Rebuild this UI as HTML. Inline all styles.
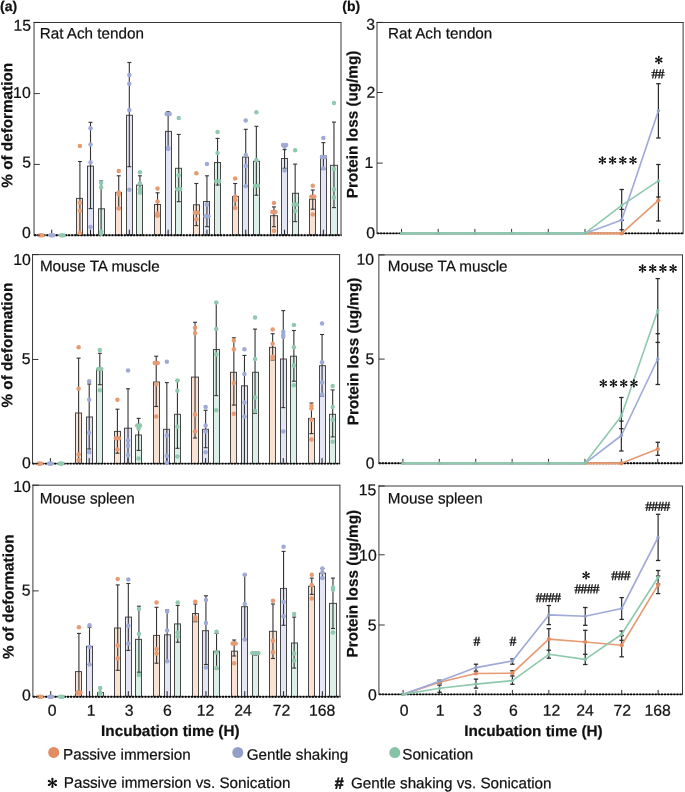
<!DOCTYPE html>
<html><head><meta charset="utf-8"><style>
html,body{margin:0;padding:0;background:#fff;}
body{width:685px;height:792px;overflow:hidden;}
svg{display:block;}
svg{will-change:transform;}
text{font-family:"Liberation Sans",sans-serif;fill:#111;stroke:#111;stroke-width:0.22px;}
.tk{font-size:15.8px;}
.tt{font-size:15.25px;}
.yl{font-size:15.27px;font-weight:bold;}
.xl{font-size:15.3px;font-weight:bold;}
.pl{font-size:14px;font-weight:bold;}
.lg{font-size:15.22px;}
.hb{font-size:16px;font-weight:bold;stroke:#111;stroke-width:0.55px;}
.hs{font-family:"Liberation Serif",serif;font-size:13.5px;font-weight:bold;letter-spacing:-0.6px;stroke:#111;stroke-width:0.25px;}

</style></head><body>
<svg width="685" height="792" viewBox="0 0 685 792">
<rect width="685" height="792" fill="#fff"/>
<line x1="34.05" y1="22" x2="34.05" y2="235.7" stroke="#383838" stroke-width="1"/>
<line x1="33.55" y1="22.5" x2="341.5" y2="22.5" stroke="#383838" stroke-width="1"/>
<line x1="341" y1="22.5" x2="341" y2="235.2" stroke="#383838" stroke-width="1"/>
<rect x="76.5" y="198.4" width="6" height="36.8" fill="#F9E1D3" stroke="#474747" stroke-width="1"/>
<rect x="87.5" y="166.1" width="6" height="69.1" fill="#E4E6F5" stroke="#474747" stroke-width="1"/>
<rect x="98.5" y="208.8" width="6" height="26.4" fill="#DCF0E8" stroke="#474747" stroke-width="1"/>
<rect x="115.5" y="192.4" width="6" height="42.8" fill="#F9E1D3" stroke="#474747" stroke-width="1"/>
<rect x="126.5" y="115.3" width="6" height="119.9" fill="#E4E6F5" stroke="#474747" stroke-width="1"/>
<rect x="136.5" y="185.1" width="6" height="50.1" fill="#DCF0E8" stroke="#474747" stroke-width="1"/>
<rect x="154.5" y="204.5" width="6" height="30.7" fill="#F9E1D3" stroke="#474747" stroke-width="1"/>
<rect x="165.5" y="131.4" width="6" height="103.8" fill="#E4E6F5" stroke="#474747" stroke-width="1"/>
<rect x="175.5" y="168.3" width="6" height="66.9" fill="#DCF0E8" stroke="#474747" stroke-width="1"/>
<rect x="193.5" y="204.8" width="6" height="30.4" fill="#F9E1D3" stroke="#474747" stroke-width="1"/>
<rect x="203.5" y="201.5" width="6" height="33.7" fill="#E4E6F5" stroke="#474747" stroke-width="1"/>
<rect x="214.5" y="162.5" width="6" height="72.7" fill="#DCF0E8" stroke="#474747" stroke-width="1"/>
<rect x="232.5" y="196.4" width="6" height="38.8" fill="#F9E1D3" stroke="#474747" stroke-width="1"/>
<rect x="242.5" y="157.1" width="6" height="78.1" fill="#E4E6F5" stroke="#474747" stroke-width="1"/>
<rect x="253.5" y="161.3" width="6" height="73.9" fill="#DCF0E8" stroke="#474747" stroke-width="1"/>
<rect x="270.5" y="215.7" width="7" height="19.5" fill="#F9E1D3" stroke="#474747" stroke-width="1"/>
<rect x="281.5" y="158.5" width="6" height="76.7" fill="#E4E6F5" stroke="#474747" stroke-width="1"/>
<rect x="292.5" y="193.3" width="6" height="41.9" fill="#DCF0E8" stroke="#474747" stroke-width="1"/>
<rect x="309.5" y="199.2" width="6" height="36" fill="#F9E1D3" stroke="#474747" stroke-width="1"/>
<rect x="320.5" y="155.9" width="6" height="79.3" fill="#E4E6F5" stroke="#474747" stroke-width="1"/>
<rect x="330.5" y="165.3" width="7" height="69.9" fill="#DCF0E8" stroke="#474747" stroke-width="1"/>
<line x1="34.05" y1="235.2" x2="341.5" y2="235.2" stroke="#444" stroke-width="1"/>
<line x1="34.05" y1="235.2" x2="341.5" y2="235.2" stroke="#000" stroke-width="1.9" stroke-dasharray="1.9 1.2"/>
<line x1="51.7" y1="235.2" x2="51.7" y2="229.7" stroke="#222" stroke-width="1"/>
<line x1="90.51" y1="235.2" x2="90.51" y2="229.7" stroke="#222" stroke-width="1"/>
<line x1="79.91" y1="161.5" x2="79.91" y2="235" stroke="#333" stroke-width="1.1"/>
<line x1="77.91" y1="161.5" x2="81.91" y2="161.5" stroke="#333" stroke-width="1.1"/>
<line x1="90.51" y1="122.3" x2="90.51" y2="208.6" stroke="#333" stroke-width="1.1"/>
<line x1="88.51" y1="122.3" x2="92.51" y2="122.3" stroke="#333" stroke-width="1.1"/>
<line x1="88.51" y1="208.6" x2="92.51" y2="208.6" stroke="#333" stroke-width="1.1"/>
<line x1="101.11" y1="181" x2="101.11" y2="235" stroke="#333" stroke-width="1.1"/>
<line x1="99.11" y1="181" x2="103.11" y2="181" stroke="#333" stroke-width="1.1"/>
<circle cx="79.91" cy="146" r="2.25" fill="#E69B73"/>
<circle cx="79.91" cy="202.7" r="2.25" fill="#E69B73"/>
<circle cx="79.91" cy="210.7" r="2.25" fill="#E69B73"/>
<circle cx="79.91" cy="233.1" r="2.25" fill="#E69B73"/>
<circle cx="90.51" cy="128.3" r="2.25" fill="#9FAAD6"/>
<circle cx="90.51" cy="144.4" r="2.25" fill="#9FAAD6"/>
<circle cx="90.51" cy="162.5" r="2.25" fill="#9FAAD6"/>
<circle cx="90.51" cy="227" r="2.25" fill="#9FAAD6"/>
<circle cx="101.11" cy="182.7" r="2.25" fill="#90C9AE"/>
<circle cx="101.11" cy="187.2" r="2.25" fill="#90C9AE"/>
<circle cx="101.11" cy="231.7" r="2.25" fill="#90C9AE"/>
<circle cx="101.11" cy="233.8" r="2.25" fill="#90C9AE"/>
<line x1="129.32" y1="235.2" x2="129.32" y2="229.7" stroke="#222" stroke-width="1"/>
<line x1="118.72" y1="175.8" x2="118.72" y2="208" stroke="#333" stroke-width="1.1"/>
<line x1="116.72" y1="175.8" x2="120.72" y2="175.8" stroke="#333" stroke-width="1.1"/>
<line x1="116.72" y1="208" x2="120.72" y2="208" stroke="#333" stroke-width="1.1"/>
<line x1="129.32" y1="62.5" x2="129.32" y2="166.7" stroke="#333" stroke-width="1.1"/>
<line x1="127.32" y1="62.5" x2="131.32" y2="62.5" stroke="#333" stroke-width="1.1"/>
<line x1="127.32" y1="166.7" x2="131.32" y2="166.7" stroke="#333" stroke-width="1.1"/>
<line x1="139.92" y1="175.8" x2="139.92" y2="192.8" stroke="#333" stroke-width="1.1"/>
<line x1="137.92" y1="175.8" x2="141.92" y2="175.8" stroke="#333" stroke-width="1.1"/>
<line x1="137.92" y1="192.8" x2="141.92" y2="192.8" stroke="#333" stroke-width="1.1"/>
<circle cx="118.72" cy="171.1" r="2.25" fill="#E69B73"/>
<circle cx="118.72" cy="192.4" r="2.25" fill="#E69B73"/>
<circle cx="118.72" cy="194.5" r="2.25" fill="#E69B73"/>
<circle cx="118.72" cy="208.5" r="2.25" fill="#E69B73"/>
<circle cx="129.32" cy="75.1" r="2.25" fill="#9FAAD6"/>
<circle cx="129.32" cy="83.7" r="2.25" fill="#9FAAD6"/>
<circle cx="129.32" cy="110.1" r="2.25" fill="#9FAAD6"/>
<circle cx="129.32" cy="189.8" r="2.25" fill="#9FAAD6"/>
<circle cx="139.92" cy="172.3" r="2.25" fill="#90C9AE"/>
<circle cx="139.92" cy="183.5" r="2.25" fill="#90C9AE"/>
<circle cx="139.92" cy="189.3" r="2.25" fill="#90C9AE"/>
<circle cx="139.92" cy="192.8" r="2.25" fill="#90C9AE"/>
<line x1="168.13" y1="235.2" x2="168.13" y2="229.7" stroke="#222" stroke-width="1"/>
<line x1="157.53" y1="192.8" x2="157.53" y2="216" stroke="#333" stroke-width="1.1"/>
<line x1="155.53" y1="192.8" x2="159.53" y2="192.8" stroke="#333" stroke-width="1.1"/>
<line x1="155.53" y1="216" x2="159.53" y2="216" stroke="#333" stroke-width="1.1"/>
<line x1="168.13" y1="111.8" x2="168.13" y2="148.5" stroke="#333" stroke-width="1.1"/>
<line x1="166.13" y1="111.8" x2="170.13" y2="111.8" stroke="#333" stroke-width="1.1"/>
<line x1="166.13" y1="148.5" x2="170.13" y2="148.5" stroke="#333" stroke-width="1.1"/>
<line x1="178.73" y1="134.4" x2="178.73" y2="201.7" stroke="#333" stroke-width="1.1"/>
<line x1="176.73" y1="134.4" x2="180.73" y2="134.4" stroke="#333" stroke-width="1.1"/>
<line x1="176.73" y1="201.7" x2="180.73" y2="201.7" stroke="#333" stroke-width="1.1"/>
<circle cx="157.53" cy="188.6" r="2.25" fill="#E69B73"/>
<circle cx="157.53" cy="201.5" r="2.25" fill="#E69B73"/>
<circle cx="157.53" cy="213.4" r="2.25" fill="#E69B73"/>
<circle cx="157.53" cy="215.7" r="2.25" fill="#E69B73"/>
<circle cx="166.63" cy="113.9" r="2.25" fill="#9FAAD6"/>
<circle cx="169.63" cy="113.9" r="2.25" fill="#9FAAD6"/>
<circle cx="168.13" cy="147.8" r="2.25" fill="#9FAAD6"/>
<circle cx="168.13" cy="149" r="2.25" fill="#9FAAD6"/>
<circle cx="178.73" cy="118.1" r="2.25" fill="#90C9AE"/>
<circle cx="178.73" cy="175.3" r="2.25" fill="#90C9AE"/>
<circle cx="177.23" cy="189.3" r="2.25" fill="#90C9AE"/>
<circle cx="180.23" cy="189.3" r="2.25" fill="#90C9AE"/>
<line x1="206.94" y1="235.2" x2="206.94" y2="229.7" stroke="#222" stroke-width="1"/>
<line x1="196.34" y1="183.5" x2="196.34" y2="225.6" stroke="#333" stroke-width="1.1"/>
<line x1="194.34" y1="183.5" x2="198.34" y2="183.5" stroke="#333" stroke-width="1.1"/>
<line x1="194.34" y1="225.6" x2="198.34" y2="225.6" stroke="#333" stroke-width="1.1"/>
<line x1="206.94" y1="175.8" x2="206.94" y2="226.7" stroke="#333" stroke-width="1.1"/>
<line x1="204.94" y1="175.8" x2="208.94" y2="175.8" stroke="#333" stroke-width="1.1"/>
<line x1="204.94" y1="226.7" x2="208.94" y2="226.7" stroke="#333" stroke-width="1.1"/>
<line x1="217.54" y1="138.4" x2="217.54" y2="185.1" stroke="#333" stroke-width="1.1"/>
<line x1="215.54" y1="138.4" x2="219.54" y2="138.4" stroke="#333" stroke-width="1.1"/>
<line x1="215.54" y1="185.1" x2="219.54" y2="185.1" stroke="#333" stroke-width="1.1"/>
<circle cx="196.34" cy="173.2" r="2.25" fill="#E69B73"/>
<circle cx="194.84" cy="212.7" r="2.25" fill="#E69B73"/>
<circle cx="197.84" cy="212.7" r="2.25" fill="#E69B73"/>
<circle cx="196.34" cy="219.3" r="2.25" fill="#E69B73"/>
<circle cx="206.94" cy="164.1" r="2.25" fill="#9FAAD6"/>
<circle cx="206.94" cy="204.5" r="2.25" fill="#9FAAD6"/>
<circle cx="205.44" cy="216.2" r="2.25" fill="#9FAAD6"/>
<circle cx="208.44" cy="216.2" r="2.25" fill="#9FAAD6"/>
<circle cx="217.54" cy="132.1" r="2.25" fill="#90C9AE"/>
<circle cx="217.54" cy="153.1" r="2.25" fill="#90C9AE"/>
<circle cx="216.04" cy="181.2" r="2.25" fill="#90C9AE"/>
<circle cx="219.04" cy="181.2" r="2.25" fill="#90C9AE"/>
<line x1="245.75" y1="235.2" x2="245.75" y2="229.7" stroke="#222" stroke-width="1"/>
<line x1="235.15" y1="183.5" x2="235.15" y2="208" stroke="#333" stroke-width="1.1"/>
<line x1="233.15" y1="183.5" x2="237.15" y2="183.5" stroke="#333" stroke-width="1.1"/>
<line x1="233.15" y1="208" x2="237.15" y2="208" stroke="#333" stroke-width="1.1"/>
<line x1="245.75" y1="129.3" x2="245.75" y2="185.8" stroke="#333" stroke-width="1.1"/>
<line x1="243.75" y1="129.3" x2="247.75" y2="129.3" stroke="#333" stroke-width="1.1"/>
<line x1="243.75" y1="185.8" x2="247.75" y2="185.8" stroke="#333" stroke-width="1.1"/>
<line x1="256.35" y1="126.3" x2="256.35" y2="195.2" stroke="#333" stroke-width="1.1"/>
<line x1="254.35" y1="126.3" x2="258.35" y2="126.3" stroke="#333" stroke-width="1.1"/>
<line x1="254.35" y1="195.2" x2="258.35" y2="195.2" stroke="#333" stroke-width="1.1"/>
<circle cx="235.15" cy="178.4" r="2.25" fill="#E69B73"/>
<circle cx="235.15" cy="196.4" r="2.25" fill="#E69B73"/>
<circle cx="235.15" cy="200.3" r="2.25" fill="#E69B73"/>
<circle cx="235.15" cy="208" r="2.25" fill="#E69B73"/>
<circle cx="245.75" cy="120.4" r="2.25" fill="#9FAAD6"/>
<circle cx="245.75" cy="155" r="2.25" fill="#9FAAD6"/>
<circle cx="245.75" cy="166" r="2.25" fill="#9FAAD6"/>
<circle cx="245.75" cy="186.3" r="2.25" fill="#9FAAD6"/>
<circle cx="256.35" cy="112.2" r="2.25" fill="#90C9AE"/>
<circle cx="256.35" cy="160.1" r="2.25" fill="#90C9AE"/>
<circle cx="254.85" cy="185.8" r="2.25" fill="#90C9AE"/>
<circle cx="257.85" cy="185.8" r="2.25" fill="#90C9AE"/>
<line x1="284.56" y1="235.2" x2="284.56" y2="229.7" stroke="#222" stroke-width="1"/>
<line x1="273.96" y1="206.9" x2="273.96" y2="226.7" stroke="#333" stroke-width="1.1"/>
<line x1="271.96" y1="206.9" x2="275.96" y2="206.9" stroke="#333" stroke-width="1.1"/>
<line x1="271.96" y1="226.7" x2="275.96" y2="226.7" stroke="#333" stroke-width="1.1"/>
<line x1="284.56" y1="149.6" x2="284.56" y2="168.3" stroke="#333" stroke-width="1.1"/>
<line x1="282.56" y1="149.6" x2="286.56" y2="149.6" stroke="#333" stroke-width="1.1"/>
<line x1="282.56" y1="168.3" x2="286.56" y2="168.3" stroke="#333" stroke-width="1.1"/>
<line x1="295.16" y1="164.1" x2="295.16" y2="221.6" stroke="#333" stroke-width="1.1"/>
<line x1="293.16" y1="164.1" x2="297.16" y2="164.1" stroke="#333" stroke-width="1.1"/>
<line x1="293.16" y1="221.6" x2="297.16" y2="221.6" stroke="#333" stroke-width="1.1"/>
<circle cx="273.96" cy="202.9" r="2.25" fill="#E69B73"/>
<circle cx="272.46" cy="212" r="2.25" fill="#E69B73"/>
<circle cx="275.46" cy="212" r="2.25" fill="#E69B73"/>
<circle cx="273.96" cy="230.7" r="2.25" fill="#E69B73"/>
<circle cx="283.06" cy="145" r="2.25" fill="#9FAAD6"/>
<circle cx="286.06" cy="145" r="2.25" fill="#9FAAD6"/>
<circle cx="284.56" cy="146.8" r="2.25" fill="#9FAAD6"/>
<circle cx="284.56" cy="170.6" r="2.25" fill="#9FAAD6"/>
<circle cx="295.16" cy="150.3" r="2.25" fill="#90C9AE"/>
<circle cx="293.66" cy="204.5" r="2.25" fill="#90C9AE"/>
<circle cx="296.66" cy="204.5" r="2.25" fill="#90C9AE"/>
<circle cx="295.16" cy="211" r="2.25" fill="#90C9AE"/>
<line x1="323.37" y1="235.2" x2="323.37" y2="229.7" stroke="#222" stroke-width="1"/>
<line x1="312.77" y1="190" x2="312.77" y2="209.2" stroke="#333" stroke-width="1.1"/>
<line x1="310.77" y1="190" x2="314.77" y2="190" stroke="#333" stroke-width="1.1"/>
<line x1="310.77" y1="209.2" x2="314.77" y2="209.2" stroke="#333" stroke-width="1.1"/>
<line x1="323.37" y1="142.6" x2="323.37" y2="169.5" stroke="#333" stroke-width="1.1"/>
<line x1="321.37" y1="142.6" x2="325.37" y2="142.6" stroke="#333" stroke-width="1.1"/>
<line x1="321.37" y1="169.5" x2="325.37" y2="169.5" stroke="#333" stroke-width="1.1"/>
<line x1="333.97" y1="122.1" x2="333.97" y2="207.6" stroke="#333" stroke-width="1.1"/>
<line x1="331.97" y1="122.1" x2="335.97" y2="122.1" stroke="#333" stroke-width="1.1"/>
<line x1="331.97" y1="207.6" x2="335.97" y2="207.6" stroke="#333" stroke-width="1.1"/>
<circle cx="312.77" cy="185.8" r="2.25" fill="#E69B73"/>
<circle cx="311.27" cy="196.8" r="2.25" fill="#E69B73"/>
<circle cx="314.27" cy="196.8" r="2.25" fill="#E69B73"/>
<circle cx="312.77" cy="214.6" r="2.25" fill="#E69B73"/>
<circle cx="323.37" cy="138" r="2.25" fill="#9FAAD6"/>
<circle cx="321.87" cy="157.1" r="2.25" fill="#9FAAD6"/>
<circle cx="324.87" cy="157.1" r="2.25" fill="#9FAAD6"/>
<circle cx="323.37" cy="168.3" r="2.25" fill="#9FAAD6"/>
<circle cx="333.97" cy="102.9" r="2.25" fill="#90C9AE"/>
<circle cx="333.97" cy="169" r="2.25" fill="#90C9AE"/>
<circle cx="333.97" cy="189.3" r="2.25" fill="#90C9AE"/>
<circle cx="333.97" cy="197.5" r="2.25" fill="#90C9AE"/>
<ellipse cx="41.1" cy="235.2" rx="3.5" ry="2.3" fill="#E69B73"/>
<ellipse cx="51.7" cy="235.2" rx="3.5" ry="2.3" fill="#9FAAD6"/>
<ellipse cx="62.3" cy="235.2" rx="3.5" ry="2.3" fill="#90C9AE"/>
<line x1="34.05" y1="22.4" x2="39.85" y2="22.4" stroke="#222" stroke-width="0.9"/>
<line x1="34.05" y1="93.6" x2="39.85" y2="93.6" stroke="#222" stroke-width="0.9"/>
<line x1="34.05" y1="164.4" x2="39.85" y2="164.4" stroke="#222" stroke-width="0.9"/>
<line x1="34.05" y1="235.2" x2="39.85" y2="235.2" stroke="#222" stroke-width="0.9"/>
<text class="tk" transform="translate(13.38,30.64) rotate(0.03)">15</text>
<text class="tk" transform="translate(13.12,97.98) rotate(0.03)">10</text>
<text class="tk" transform="translate(22.17,167.47) rotate(0.03)">5</text>
<text class="tk" transform="translate(22.01,238.02) rotate(0.03)">0</text>
<text class="tt" transform="translate(39.70,38.48) rotate(0.03)">Rat Ach tendon</text>
<text class="yl" transform="translate(12.31,187.64) rotate(-89.97)">% of deformation</text>
<line x1="32.55" y1="254.1" x2="32.55" y2="464.1" stroke="#383838" stroke-width="1"/>
<line x1="32.05" y1="254.6" x2="340.1" y2="254.6" stroke="#383838" stroke-width="1"/>
<line x1="339.6" y1="254.6" x2="339.6" y2="463.6" stroke="#383838" stroke-width="1"/>
<rect x="75.5" y="413" width="6" height="50.6" fill="#F9E1D3" stroke="#474747" stroke-width="1"/>
<rect x="86.5" y="417" width="6" height="46.6" fill="#E4E6F5" stroke="#474747" stroke-width="1"/>
<rect x="96.5" y="369" width="6" height="94.6" fill="#DCF0E8" stroke="#474747" stroke-width="1"/>
<rect x="114.5" y="431.4" width="6" height="32.2" fill="#F9E1D3" stroke="#474747" stroke-width="1"/>
<rect x="124.5" y="428.2" width="7" height="35.4" fill="#E4E6F5" stroke="#474747" stroke-width="1"/>
<rect x="135.5" y="435" width="6" height="28.6" fill="#DCF0E8" stroke="#474747" stroke-width="1"/>
<rect x="153.5" y="382" width="6" height="81.6" fill="#F9E1D3" stroke="#474747" stroke-width="1"/>
<rect x="163.5" y="429.3" width="6" height="34.3" fill="#E4E6F5" stroke="#474747" stroke-width="1"/>
<rect x="174.5" y="414.3" width="6" height="49.3" fill="#DCF0E8" stroke="#474747" stroke-width="1"/>
<rect x="191.5" y="377.1" width="7" height="86.5" fill="#F9E1D3" stroke="#474747" stroke-width="1"/>
<rect x="202.5" y="429.3" width="6" height="34.3" fill="#E4E6F5" stroke="#474747" stroke-width="1"/>
<rect x="213.5" y="349.5" width="6" height="114.1" fill="#DCF0E8" stroke="#474747" stroke-width="1"/>
<rect x="230.5" y="372.3" width="6" height="91.3" fill="#F9E1D3" stroke="#474747" stroke-width="1"/>
<rect x="241.5" y="385.8" width="6" height="77.8" fill="#E4E6F5" stroke="#474747" stroke-width="1"/>
<rect x="252.5" y="372.3" width="6" height="91.3" fill="#DCF0E8" stroke="#474747" stroke-width="1"/>
<rect x="269.5" y="347.3" width="6" height="116.3" fill="#F9E1D3" stroke="#474747" stroke-width="1"/>
<rect x="280.5" y="359" width="6" height="104.6" fill="#E4E6F5" stroke="#474747" stroke-width="1"/>
<rect x="290.5" y="356.2" width="6" height="107.4" fill="#DCF0E8" stroke="#474747" stroke-width="1"/>
<rect x="308.5" y="418.4" width="6" height="45.2" fill="#F9E1D3" stroke="#474747" stroke-width="1"/>
<rect x="319.5" y="365.7" width="6" height="97.9" fill="#E4E6F5" stroke="#474747" stroke-width="1"/>
<rect x="329.5" y="414.3" width="6" height="49.3" fill="#DCF0E8" stroke="#474747" stroke-width="1"/>
<line x1="32.55" y1="463.6" x2="340.1" y2="463.6" stroke="#444" stroke-width="1"/>
<line x1="32.55" y1="463.6" x2="340.1" y2="463.6" stroke="#000" stroke-width="1.9" stroke-dasharray="1.9 1.2"/>
<line x1="50.4" y1="463.6" x2="50.4" y2="458.1" stroke="#222" stroke-width="1"/>
<line x1="89.21" y1="463.6" x2="89.21" y2="458.1" stroke="#222" stroke-width="1"/>
<line x1="78.61" y1="358.1" x2="78.61" y2="463.6" stroke="#333" stroke-width="1.1"/>
<line x1="76.61" y1="358.1" x2="80.61" y2="358.1" stroke="#333" stroke-width="1.1"/>
<line x1="89.21" y1="384" x2="89.21" y2="449" stroke="#333" stroke-width="1.1"/>
<line x1="87.21" y1="384" x2="91.21" y2="384" stroke="#333" stroke-width="1.1"/>
<line x1="87.21" y1="449" x2="91.21" y2="449" stroke="#333" stroke-width="1.1"/>
<line x1="99.81" y1="353.3" x2="99.81" y2="384.7" stroke="#333" stroke-width="1.1"/>
<line x1="97.81" y1="353.3" x2="101.81" y2="353.3" stroke="#333" stroke-width="1.1"/>
<line x1="97.81" y1="384.7" x2="101.81" y2="384.7" stroke="#333" stroke-width="1.1"/>
<circle cx="78.61" cy="347.3" r="2.25" fill="#E69B73"/>
<circle cx="78.61" cy="388.8" r="2.25" fill="#E69B73"/>
<circle cx="78.61" cy="454.5" r="2.25" fill="#E69B73"/>
<circle cx="78.61" cy="460" r="2.25" fill="#E69B73"/>
<circle cx="89.21" cy="381.2" r="2.25" fill="#9FAAD6"/>
<circle cx="89.21" cy="399.7" r="2.25" fill="#9FAAD6"/>
<circle cx="89.21" cy="432.8" r="2.25" fill="#9FAAD6"/>
<circle cx="89.21" cy="452.3" r="2.25" fill="#9FAAD6"/>
<circle cx="99.81" cy="350" r="2.25" fill="#90C9AE"/>
<circle cx="98.31" cy="369" r="2.25" fill="#90C9AE"/>
<circle cx="101.31" cy="369" r="2.25" fill="#90C9AE"/>
<circle cx="99.81" cy="390.2" r="2.25" fill="#90C9AE"/>
<line x1="128.02" y1="463.6" x2="128.02" y2="458.1" stroke="#222" stroke-width="1"/>
<line x1="117.42" y1="409.2" x2="117.42" y2="453.2" stroke="#333" stroke-width="1.1"/>
<line x1="115.42" y1="409.2" x2="119.42" y2="409.2" stroke="#333" stroke-width="1.1"/>
<line x1="115.42" y1="453.2" x2="119.42" y2="453.2" stroke="#333" stroke-width="1.1"/>
<line x1="128.02" y1="388.8" x2="128.02" y2="463.6" stroke="#333" stroke-width="1.1"/>
<line x1="126.02" y1="388.8" x2="130.02" y2="388.8" stroke="#333" stroke-width="1.1"/>
<line x1="138.62" y1="418.4" x2="138.62" y2="450.4" stroke="#333" stroke-width="1.1"/>
<line x1="136.62" y1="418.4" x2="140.62" y2="418.4" stroke="#333" stroke-width="1.1"/>
<line x1="136.62" y1="450.4" x2="140.62" y2="450.4" stroke="#333" stroke-width="1.1"/>
<circle cx="117.42" cy="399.7" r="2.25" fill="#E69B73"/>
<circle cx="115.92" cy="438.2" r="2.25" fill="#E69B73"/>
<circle cx="118.92" cy="438.2" r="2.25" fill="#E69B73"/>
<circle cx="117.42" cy="449.6" r="2.25" fill="#E69B73"/>
<circle cx="128.02" cy="370.6" r="2.25" fill="#9FAAD6"/>
<circle cx="128.02" cy="440.4" r="2.25" fill="#9FAAD6"/>
<circle cx="128.02" cy="445.8" r="2.25" fill="#9FAAD6"/>
<circle cx="128.02" cy="455" r="2.25" fill="#9FAAD6"/>
<circle cx="137.12" cy="425.5" r="2.25" fill="#90C9AE"/>
<circle cx="140.12" cy="425.5" r="2.25" fill="#90C9AE"/>
<circle cx="138.62" cy="428.7" r="2.25" fill="#90C9AE"/>
<circle cx="138.62" cy="458.6" r="2.25" fill="#90C9AE"/>
<line x1="166.83" y1="463.6" x2="166.83" y2="458.1" stroke="#222" stroke-width="1"/>
<line x1="156.23" y1="356.2" x2="156.23" y2="406.5" stroke="#333" stroke-width="1.1"/>
<line x1="154.23" y1="356.2" x2="158.23" y2="356.2" stroke="#333" stroke-width="1.1"/>
<line x1="154.23" y1="406.5" x2="158.23" y2="406.5" stroke="#333" stroke-width="1.1"/>
<line x1="166.83" y1="382.6" x2="166.83" y2="463.6" stroke="#333" stroke-width="1.1"/>
<line x1="164.83" y1="382.6" x2="168.83" y2="382.6" stroke="#333" stroke-width="1.1"/>
<line x1="177.43" y1="380.4" x2="177.43" y2="448.3" stroke="#333" stroke-width="1.1"/>
<line x1="175.43" y1="380.4" x2="179.43" y2="380.4" stroke="#333" stroke-width="1.1"/>
<line x1="175.43" y1="448.3" x2="179.43" y2="448.3" stroke="#333" stroke-width="1.1"/>
<circle cx="154.73" cy="363" r="2.25" fill="#E69B73"/>
<circle cx="157.73" cy="363" r="2.25" fill="#E69B73"/>
<circle cx="156.23" cy="384" r="2.25" fill="#E69B73"/>
<circle cx="156.23" cy="416.5" r="2.25" fill="#E69B73"/>
<circle cx="166.83" cy="361.7" r="2.25" fill="#9FAAD6"/>
<circle cx="166.83" cy="435.5" r="2.25" fill="#9FAAD6"/>
<circle cx="166.83" cy="455.9" r="2.25" fill="#9FAAD6"/>
<circle cx="166.83" cy="462.7" r="2.25" fill="#9FAAD6"/>
<circle cx="177.43" cy="380.4" r="2.25" fill="#90C9AE"/>
<circle cx="177.43" cy="390.7" r="2.25" fill="#90C9AE"/>
<circle cx="177.43" cy="426.8" r="2.25" fill="#90C9AE"/>
<circle cx="177.43" cy="456.4" r="2.25" fill="#90C9AE"/>
<line x1="205.64" y1="463.6" x2="205.64" y2="458.1" stroke="#222" stroke-width="1"/>
<line x1="195.04" y1="322.3" x2="195.04" y2="438" stroke="#333" stroke-width="1.1"/>
<line x1="193.04" y1="322.3" x2="197.04" y2="322.3" stroke="#333" stroke-width="1.1"/>
<line x1="193.04" y1="438" x2="197.04" y2="438" stroke="#333" stroke-width="1.1"/>
<line x1="205.64" y1="410.3" x2="205.64" y2="447.7" stroke="#333" stroke-width="1.1"/>
<line x1="203.64" y1="410.3" x2="207.64" y2="410.3" stroke="#333" stroke-width="1.1"/>
<line x1="203.64" y1="447.7" x2="207.64" y2="447.7" stroke="#333" stroke-width="1.1"/>
<line x1="216.24" y1="302.5" x2="216.24" y2="395.6" stroke="#333" stroke-width="1.1"/>
<line x1="214.24" y1="302.5" x2="218.24" y2="302.5" stroke="#333" stroke-width="1.1"/>
<line x1="214.24" y1="395.6" x2="218.24" y2="395.6" stroke="#333" stroke-width="1.1"/>
<circle cx="195.04" cy="327.7" r="2.25" fill="#E69B73"/>
<circle cx="195.04" cy="332.9" r="2.25" fill="#E69B73"/>
<circle cx="195.04" cy="414.6" r="2.25" fill="#E69B73"/>
<circle cx="195.04" cy="431.4" r="2.25" fill="#E69B73"/>
<circle cx="205.64" cy="407" r="2.25" fill="#9FAAD6"/>
<circle cx="205.64" cy="425.5" r="2.25" fill="#9FAAD6"/>
<circle cx="205.64" cy="431.4" r="2.25" fill="#9FAAD6"/>
<circle cx="205.64" cy="452.3" r="2.25" fill="#9FAAD6"/>
<circle cx="216.24" cy="302.5" r="2.25" fill="#90C9AE"/>
<circle cx="216.24" cy="329.1" r="2.25" fill="#90C9AE"/>
<circle cx="216.24" cy="354.6" r="2.25" fill="#90C9AE"/>
<circle cx="216.24" cy="410.3" r="2.25" fill="#90C9AE"/>
<line x1="244.45" y1="463.6" x2="244.45" y2="458.1" stroke="#222" stroke-width="1"/>
<line x1="233.85" y1="337.8" x2="233.85" y2="405.1" stroke="#333" stroke-width="1.1"/>
<line x1="231.85" y1="337.8" x2="235.85" y2="337.8" stroke="#333" stroke-width="1.1"/>
<line x1="231.85" y1="405.1" x2="235.85" y2="405.1" stroke="#333" stroke-width="1.1"/>
<line x1="244.45" y1="355.4" x2="244.45" y2="463" stroke="#333" stroke-width="1.1"/>
<line x1="242.45" y1="355.4" x2="246.45" y2="355.4" stroke="#333" stroke-width="1.1"/>
<line x1="255.05" y1="329.1" x2="255.05" y2="413.3" stroke="#333" stroke-width="1.1"/>
<line x1="253.05" y1="329.1" x2="257.05" y2="329.1" stroke="#333" stroke-width="1.1"/>
<line x1="253.05" y1="413.3" x2="257.05" y2="413.3" stroke="#333" stroke-width="1.1"/>
<circle cx="233.85" cy="340.5" r="2.25" fill="#E69B73"/>
<circle cx="233.85" cy="349.2" r="2.25" fill="#E69B73"/>
<circle cx="233.85" cy="383.1" r="2.25" fill="#E69B73"/>
<circle cx="233.85" cy="413.8" r="2.25" fill="#E69B73"/>
<circle cx="244.45" cy="349.2" r="2.25" fill="#9FAAD6"/>
<circle cx="244.45" cy="373.9" r="2.25" fill="#9FAAD6"/>
<circle cx="244.45" cy="402.4" r="2.25" fill="#9FAAD6"/>
<circle cx="244.45" cy="416.5" r="2.25" fill="#9FAAD6"/>
<circle cx="255.05" cy="317.4" r="2.25" fill="#90C9AE"/>
<circle cx="255.05" cy="359" r="2.25" fill="#90C9AE"/>
<circle cx="255.05" cy="397.5" r="2.25" fill="#90C9AE"/>
<circle cx="255.05" cy="411.1" r="2.25" fill="#90C9AE"/>
<line x1="283.26" y1="463.6" x2="283.26" y2="458.1" stroke="#222" stroke-width="1"/>
<line x1="272.66" y1="333.7" x2="272.66" y2="360" stroke="#333" stroke-width="1.1"/>
<line x1="270.66" y1="333.7" x2="274.66" y2="333.7" stroke="#333" stroke-width="1.1"/>
<line x1="270.66" y1="360" x2="274.66" y2="360" stroke="#333" stroke-width="1.1"/>
<line x1="283.26" y1="310.6" x2="283.26" y2="407.6" stroke="#333" stroke-width="1.1"/>
<line x1="281.26" y1="310.6" x2="285.26" y2="310.6" stroke="#333" stroke-width="1.1"/>
<line x1="281.26" y1="407.6" x2="285.26" y2="407.6" stroke="#333" stroke-width="1.1"/>
<line x1="293.86" y1="330.5" x2="293.86" y2="381.2" stroke="#333" stroke-width="1.1"/>
<line x1="291.86" y1="330.5" x2="295.86" y2="330.5" stroke="#333" stroke-width="1.1"/>
<line x1="291.86" y1="381.2" x2="295.86" y2="381.2" stroke="#333" stroke-width="1.1"/>
<circle cx="272.66" cy="329.6" r="2.25" fill="#E69B73"/>
<circle cx="272.66" cy="343.8" r="2.25" fill="#E69B73"/>
<circle cx="272.66" cy="356.8" r="2.25" fill="#E69B73"/>
<circle cx="272.66" cy="358.1" r="2.25" fill="#E69B73"/>
<circle cx="283.26" cy="331.8" r="2.25" fill="#9FAAD6"/>
<circle cx="283.26" cy="335" r="2.25" fill="#9FAAD6"/>
<circle cx="283.26" cy="337" r="2.25" fill="#9FAAD6"/>
<circle cx="283.26" cy="431.4" r="2.25" fill="#9FAAD6"/>
<circle cx="293.86" cy="325" r="2.25" fill="#90C9AE"/>
<circle cx="293.86" cy="347.3" r="2.25" fill="#90C9AE"/>
<circle cx="293.86" cy="365.5" r="2.25" fill="#90C9AE"/>
<circle cx="293.86" cy="385.3" r="2.25" fill="#90C9AE"/>
<line x1="322.07" y1="463.6" x2="322.07" y2="458.1" stroke="#222" stroke-width="1"/>
<line x1="311.47" y1="403" x2="311.47" y2="433.6" stroke="#333" stroke-width="1.1"/>
<line x1="309.47" y1="403" x2="313.47" y2="403" stroke="#333" stroke-width="1.1"/>
<line x1="309.47" y1="433.6" x2="313.47" y2="433.6" stroke="#333" stroke-width="1.1"/>
<line x1="322.07" y1="334.5" x2="322.07" y2="396.2" stroke="#333" stroke-width="1.1"/>
<line x1="320.07" y1="334.5" x2="324.07" y2="334.5" stroke="#333" stroke-width="1.1"/>
<line x1="320.07" y1="396.2" x2="324.07" y2="396.2" stroke="#333" stroke-width="1.1"/>
<line x1="332.67" y1="389.9" x2="332.67" y2="436.9" stroke="#333" stroke-width="1.1"/>
<line x1="330.67" y1="389.9" x2="334.67" y2="389.9" stroke="#333" stroke-width="1.1"/>
<line x1="330.67" y1="436.9" x2="334.67" y2="436.9" stroke="#333" stroke-width="1.1"/>
<circle cx="311.47" cy="405.7" r="2.25" fill="#E69B73"/>
<circle cx="311.47" cy="408.4" r="2.25" fill="#E69B73"/>
<circle cx="311.47" cy="419.8" r="2.25" fill="#E69B73"/>
<circle cx="311.47" cy="439.6" r="2.25" fill="#E69B73"/>
<circle cx="322.07" cy="323.4" r="2.25" fill="#9FAAD6"/>
<circle cx="322.07" cy="362.2" r="2.25" fill="#9FAAD6"/>
<circle cx="322.07" cy="382.6" r="2.25" fill="#9FAAD6"/>
<circle cx="322.07" cy="394.8" r="2.25" fill="#9FAAD6"/>
<circle cx="332.67" cy="386.1" r="2.25" fill="#90C9AE"/>
<circle cx="332.67" cy="407" r="2.25" fill="#90C9AE"/>
<circle cx="332.67" cy="419.8" r="2.25" fill="#90C9AE"/>
<circle cx="332.67" cy="441.8" r="2.25" fill="#90C9AE"/>
<ellipse cx="39.8" cy="463.6" rx="3.5" ry="2.3" fill="#E69B73"/>
<ellipse cx="50.4" cy="463.6" rx="3.5" ry="2.3" fill="#9FAAD6"/>
<ellipse cx="61" cy="463.6" rx="3.5" ry="2.3" fill="#90C9AE"/>
<line x1="32.55" y1="254.6" x2="38.35" y2="254.6" stroke="#222" stroke-width="0.9"/>
<line x1="32.55" y1="359.5" x2="38.35" y2="359.5" stroke="#222" stroke-width="0.9"/>
<line x1="32.55" y1="463.6" x2="38.35" y2="463.6" stroke="#222" stroke-width="0.9"/>
<text class="tk" transform="translate(13.22,264.98) rotate(0.03)">10</text>
<text class="tk" transform="translate(21.87,363.92) rotate(0.03)">5</text>
<text class="tk" transform="translate(22.01,468.32) rotate(0.03)">0</text>
<text class="tt" transform="translate(39.90,271.34) rotate(0.03)">Mouse TA muscle</text>
<text class="yl" transform="translate(12.31,407.44) rotate(-89.97)">% of deformation</text>
<line x1="32.9" y1="484.7" x2="32.9" y2="697.2" stroke="#383838" stroke-width="1"/>
<line x1="32.4" y1="485.2" x2="340.4" y2="485.2" stroke="#383838" stroke-width="1"/>
<line x1="339.9" y1="485.2" x2="339.9" y2="696.7" stroke="#383838" stroke-width="1"/>
<rect x="75.5" y="671.6" width="6" height="25.1" fill="#F9E1D3" stroke="#474747" stroke-width="1"/>
<rect x="86.5" y="646.3" width="6" height="50.4" fill="#E4E6F5" stroke="#474747" stroke-width="1"/>
<rect x="97.5" y="692.5" width="6" height="4.2" fill="#DCF0E8" stroke="#474747" stroke-width="1"/>
<rect x="114.5" y="628" width="6" height="68.7" fill="#F9E1D3" stroke="#474747" stroke-width="1"/>
<rect x="125.5" y="617.1" width="6" height="79.6" fill="#E4E6F5" stroke="#474747" stroke-width="1"/>
<rect x="135.5" y="639.4" width="6" height="57.3" fill="#DCF0E8" stroke="#474747" stroke-width="1"/>
<rect x="153.5" y="635.4" width="6" height="61.3" fill="#F9E1D3" stroke="#474747" stroke-width="1"/>
<rect x="164.5" y="634.8" width="6" height="61.9" fill="#E4E6F5" stroke="#474747" stroke-width="1"/>
<rect x="174.5" y="623.9" width="6" height="72.8" fill="#DCF0E8" stroke="#474747" stroke-width="1"/>
<rect x="192.5" y="613.5" width="6" height="83.2" fill="#F9E1D3" stroke="#474747" stroke-width="1"/>
<rect x="202.5" y="630.7" width="6" height="66" fill="#E4E6F5" stroke="#474747" stroke-width="1"/>
<rect x="213.5" y="651.2" width="6" height="45.5" fill="#DCF0E8" stroke="#474747" stroke-width="1"/>
<rect x="231.5" y="651.2" width="6" height="45.5" fill="#F9E1D3" stroke="#474747" stroke-width="1"/>
<rect x="241.5" y="606.7" width="6" height="90" fill="#E4E6F5" stroke="#474747" stroke-width="1"/>
<rect x="252.5" y="653.6" width="6" height="43.1" fill="#DCF0E8" stroke="#474747" stroke-width="1"/>
<rect x="269.5" y="631.3" width="7" height="65.4" fill="#F9E1D3" stroke="#474747" stroke-width="1"/>
<rect x="280.5" y="588.4" width="6" height="108.3" fill="#E4E6F5" stroke="#474747" stroke-width="1"/>
<rect x="291.5" y="643" width="6" height="53.7" fill="#DCF0E8" stroke="#474747" stroke-width="1"/>
<rect x="308.5" y="586.3" width="6" height="110.4" fill="#F9E1D3" stroke="#474747" stroke-width="1"/>
<rect x="319.5" y="573.2" width="6" height="123.5" fill="#E4E6F5" stroke="#474747" stroke-width="1"/>
<rect x="329.5" y="603.4" width="7" height="93.3" fill="#DCF0E8" stroke="#474747" stroke-width="1"/>
<line x1="32.9" y1="696.7" x2="340.4" y2="696.7" stroke="#444" stroke-width="1"/>
<line x1="32.9" y1="696.7" x2="340.4" y2="696.7" stroke="#000" stroke-width="1.9" stroke-dasharray="1.9 1.2"/>
<line x1="50.7" y1="696.7" x2="50.7" y2="691.2" stroke="#222" stroke-width="1"/>
<line x1="89.51" y1="696.7" x2="89.51" y2="691.2" stroke="#222" stroke-width="1"/>
<line x1="78.91" y1="633.4" x2="78.91" y2="696.7" stroke="#333" stroke-width="1.1"/>
<line x1="76.91" y1="633.4" x2="80.91" y2="633.4" stroke="#333" stroke-width="1.1"/>
<line x1="89.51" y1="627.2" x2="89.51" y2="664.5" stroke="#333" stroke-width="1.1"/>
<line x1="87.51" y1="627.2" x2="91.51" y2="627.2" stroke="#333" stroke-width="1.1"/>
<line x1="87.51" y1="664.5" x2="91.51" y2="664.5" stroke="#333" stroke-width="1.1"/>
<line x1="100.11" y1="688" x2="100.11" y2="696" stroke="#333" stroke-width="1.1"/>
<line x1="98.11" y1="688" x2="102.11" y2="688" stroke="#333" stroke-width="1.1"/>
<circle cx="78.91" cy="627.2" r="2.25" fill="#E69B73"/>
<circle cx="77.41" cy="692.6" r="2.25" fill="#E69B73"/>
<circle cx="80.41" cy="692.6" r="2.25" fill="#E69B73"/>
<circle cx="78.91" cy="694" r="2.25" fill="#E69B73"/>
<circle cx="89.51" cy="625.3" r="2.25" fill="#9FAAD6"/>
<circle cx="89.51" cy="647.1" r="2.25" fill="#9FAAD6"/>
<circle cx="89.51" cy="664.5" r="2.25" fill="#9FAAD6"/>
<circle cx="100.11" cy="688" r="2.25" fill="#90C9AE"/>
<circle cx="100.11" cy="692.6" r="2.25" fill="#90C9AE"/>
<circle cx="100.11" cy="694" r="2.25" fill="#90C9AE"/>
<line x1="128.32" y1="696.7" x2="128.32" y2="691.2" stroke="#222" stroke-width="1"/>
<line x1="117.72" y1="584.9" x2="117.72" y2="670.3" stroke="#333" stroke-width="1.1"/>
<line x1="115.72" y1="584.9" x2="119.72" y2="584.9" stroke="#333" stroke-width="1.1"/>
<line x1="115.72" y1="670.3" x2="119.72" y2="670.3" stroke="#333" stroke-width="1.1"/>
<line x1="128.32" y1="583.5" x2="128.32" y2="650.4" stroke="#333" stroke-width="1.1"/>
<line x1="126.32" y1="583.5" x2="130.32" y2="583.5" stroke="#333" stroke-width="1.1"/>
<line x1="126.32" y1="650.4" x2="130.32" y2="650.4" stroke="#333" stroke-width="1.1"/>
<line x1="138.92" y1="606.2" x2="138.92" y2="672.2" stroke="#333" stroke-width="1.1"/>
<line x1="136.92" y1="606.2" x2="140.92" y2="606.2" stroke="#333" stroke-width="1.1"/>
<line x1="136.92" y1="672.2" x2="140.92" y2="672.2" stroke="#333" stroke-width="1.1"/>
<circle cx="117.72" cy="578.9" r="2.25" fill="#E69B73"/>
<circle cx="117.72" cy="645.4" r="2.25" fill="#E69B73"/>
<circle cx="117.72" cy="658.5" r="2.25" fill="#E69B73"/>
<circle cx="128.32" cy="579.4" r="2.25" fill="#9FAAD6"/>
<circle cx="128.32" cy="625.8" r="2.25" fill="#9FAAD6"/>
<circle cx="128.32" cy="643.5" r="2.25" fill="#9FAAD6"/>
<circle cx="138.92" cy="608.9" r="2.25" fill="#90C9AE"/>
<circle cx="138.92" cy="634" r="2.25" fill="#90C9AE"/>
<circle cx="138.92" cy="674.9" r="2.25" fill="#90C9AE"/>
<line x1="167.13" y1="696.7" x2="167.13" y2="691.2" stroke="#222" stroke-width="1"/>
<line x1="156.53" y1="607.3" x2="156.53" y2="663.2" stroke="#333" stroke-width="1.1"/>
<line x1="154.53" y1="607.3" x2="158.53" y2="607.3" stroke="#333" stroke-width="1.1"/>
<line x1="154.53" y1="663.2" x2="158.53" y2="663.2" stroke="#333" stroke-width="1.1"/>
<line x1="167.13" y1="610" x2="167.13" y2="661.3" stroke="#333" stroke-width="1.1"/>
<line x1="165.13" y1="610" x2="169.13" y2="610" stroke="#333" stroke-width="1.1"/>
<line x1="165.13" y1="661.3" x2="169.13" y2="661.3" stroke="#333" stroke-width="1.1"/>
<line x1="177.73" y1="605.4" x2="177.73" y2="642.2" stroke="#333" stroke-width="1.1"/>
<line x1="175.73" y1="605.4" x2="179.73" y2="605.4" stroke="#333" stroke-width="1.1"/>
<line x1="175.73" y1="642.2" x2="179.73" y2="642.2" stroke="#333" stroke-width="1.1"/>
<circle cx="156.53" cy="602.6" r="2.25" fill="#E69B73"/>
<circle cx="156.53" cy="649" r="2.25" fill="#E69B73"/>
<circle cx="156.53" cy="653.6" r="2.25" fill="#E69B73"/>
<circle cx="167.13" cy="611.4" r="2.25" fill="#9FAAD6"/>
<circle cx="167.13" cy="630.4" r="2.25" fill="#9FAAD6"/>
<circle cx="167.13" cy="661.3" r="2.25" fill="#9FAAD6"/>
<circle cx="177.73" cy="602.6" r="2.25" fill="#90C9AE"/>
<circle cx="177.73" cy="632.6" r="2.25" fill="#90C9AE"/>
<circle cx="177.73" cy="636.7" r="2.25" fill="#90C9AE"/>
<line x1="205.94" y1="696.7" x2="205.94" y2="691.2" stroke="#222" stroke-width="1"/>
<line x1="195.34" y1="604" x2="195.34" y2="621.7" stroke="#333" stroke-width="1.1"/>
<line x1="193.34" y1="604" x2="197.34" y2="604" stroke="#333" stroke-width="1.1"/>
<line x1="193.34" y1="621.7" x2="197.34" y2="621.7" stroke="#333" stroke-width="1.1"/>
<line x1="205.94" y1="595.8" x2="205.94" y2="664.5" stroke="#333" stroke-width="1.1"/>
<line x1="203.94" y1="595.8" x2="207.94" y2="595.8" stroke="#333" stroke-width="1.1"/>
<line x1="203.94" y1="664.5" x2="207.94" y2="664.5" stroke="#333" stroke-width="1.1"/>
<line x1="216.54" y1="633.4" x2="216.54" y2="668.9" stroke="#333" stroke-width="1.1"/>
<line x1="214.54" y1="633.4" x2="218.54" y2="633.4" stroke="#333" stroke-width="1.1"/>
<line x1="214.54" y1="668.9" x2="218.54" y2="668.9" stroke="#333" stroke-width="1.1"/>
<circle cx="195.34" cy="601.8" r="2.25" fill="#E69B73"/>
<circle cx="195.34" cy="617.6" r="2.25" fill="#E69B73"/>
<circle cx="195.34" cy="619.5" r="2.25" fill="#E69B73"/>
<circle cx="205.94" cy="599.9" r="2.25" fill="#9FAAD6"/>
<circle cx="205.94" cy="623.1" r="2.25" fill="#9FAAD6"/>
<circle cx="205.94" cy="667.5" r="2.25" fill="#9FAAD6"/>
<circle cx="216.54" cy="631.8" r="2.25" fill="#90C9AE"/>
<circle cx="216.54" cy="652.5" r="2.25" fill="#90C9AE"/>
<circle cx="216.54" cy="668.1" r="2.25" fill="#90C9AE"/>
<line x1="244.75" y1="696.7" x2="244.75" y2="691.2" stroke="#222" stroke-width="1"/>
<line x1="234.15" y1="640" x2="234.15" y2="656" stroke="#333" stroke-width="1.1"/>
<line x1="232.15" y1="640" x2="236.15" y2="640" stroke="#333" stroke-width="1.1"/>
<line x1="232.15" y1="656" x2="236.15" y2="656" stroke="#333" stroke-width="1.1"/>
<line x1="244.75" y1="574.8" x2="244.75" y2="639.4" stroke="#333" stroke-width="1.1"/>
<line x1="242.75" y1="574.8" x2="246.75" y2="574.8" stroke="#333" stroke-width="1.1"/>
<line x1="242.75" y1="639.4" x2="246.75" y2="639.4" stroke="#333" stroke-width="1.1"/>
<line x1="255.35" y1="652" x2="255.35" y2="655" stroke="#333" stroke-width="1.1"/>
<line x1="253.35" y1="652" x2="257.35" y2="652" stroke="#333" stroke-width="1.1"/>
<line x1="253.35" y1="655" x2="257.35" y2="655" stroke="#333" stroke-width="1.1"/>
<circle cx="232.65" cy="643.5" r="2.25" fill="#E69B73"/>
<circle cx="235.65" cy="643.5" r="2.25" fill="#E69B73"/>
<circle cx="234.15" cy="663.2" r="2.25" fill="#E69B73"/>
<circle cx="244.75" cy="574.8" r="2.25" fill="#9FAAD6"/>
<circle cx="244.75" cy="604" r="2.25" fill="#9FAAD6"/>
<circle cx="244.75" cy="639.4" r="2.25" fill="#9FAAD6"/>
<circle cx="252.35" cy="653" r="2.25" fill="#90C9AE"/>
<circle cx="255.35" cy="653" r="2.25" fill="#90C9AE"/>
<circle cx="258.35" cy="653" r="2.25" fill="#90C9AE"/>
<line x1="283.56" y1="696.7" x2="283.56" y2="691.2" stroke="#222" stroke-width="1"/>
<line x1="272.96" y1="604" x2="272.96" y2="658.5" stroke="#333" stroke-width="1.1"/>
<line x1="270.96" y1="604" x2="274.96" y2="604" stroke="#333" stroke-width="1.1"/>
<line x1="270.96" y1="658.5" x2="274.96" y2="658.5" stroke="#333" stroke-width="1.1"/>
<line x1="283.56" y1="551.4" x2="283.56" y2="625.3" stroke="#333" stroke-width="1.1"/>
<line x1="281.56" y1="551.4" x2="285.56" y2="551.4" stroke="#333" stroke-width="1.1"/>
<line x1="281.56" y1="625.3" x2="285.56" y2="625.3" stroke="#333" stroke-width="1.1"/>
<line x1="294.16" y1="617.1" x2="294.16" y2="668.1" stroke="#333" stroke-width="1.1"/>
<line x1="292.16" y1="617.1" x2="296.16" y2="617.1" stroke="#333" stroke-width="1.1"/>
<line x1="292.16" y1="668.1" x2="296.16" y2="668.1" stroke="#333" stroke-width="1.1"/>
<circle cx="272.96" cy="600.7" r="2.25" fill="#E69B73"/>
<circle cx="272.96" cy="640.8" r="2.25" fill="#E69B73"/>
<circle cx="272.96" cy="652.3" r="2.25" fill="#E69B73"/>
<circle cx="283.56" cy="546.7" r="2.25" fill="#9FAAD6"/>
<circle cx="283.56" cy="602.1" r="2.25" fill="#9FAAD6"/>
<circle cx="283.56" cy="616.3" r="2.25" fill="#9FAAD6"/>
<circle cx="294.16" cy="614.1" r="2.25" fill="#90C9AE"/>
<circle cx="294.16" cy="653.6" r="2.25" fill="#90C9AE"/>
<circle cx="294.16" cy="660.7" r="2.25" fill="#90C9AE"/>
<line x1="322.37" y1="696.7" x2="322.37" y2="691.2" stroke="#222" stroke-width="1"/>
<line x1="311.77" y1="578.1" x2="311.77" y2="594.4" stroke="#333" stroke-width="1.1"/>
<line x1="309.77" y1="578.1" x2="313.77" y2="578.1" stroke="#333" stroke-width="1.1"/>
<line x1="309.77" y1="594.4" x2="313.77" y2="594.4" stroke="#333" stroke-width="1.1"/>
<line x1="322.37" y1="568.5" x2="322.37" y2="578.1" stroke="#333" stroke-width="1.1"/>
<line x1="320.37" y1="568.5" x2="324.37" y2="568.5" stroke="#333" stroke-width="1.1"/>
<line x1="320.37" y1="578.1" x2="324.37" y2="578.1" stroke="#333" stroke-width="1.1"/>
<line x1="332.97" y1="578.1" x2="332.97" y2="628.5" stroke="#333" stroke-width="1.1"/>
<line x1="330.97" y1="578.1" x2="334.97" y2="578.1" stroke="#333" stroke-width="1.1"/>
<line x1="330.97" y1="628.5" x2="334.97" y2="628.5" stroke="#333" stroke-width="1.1"/>
<circle cx="311.77" cy="574.8" r="2.25" fill="#E69B73"/>
<circle cx="311.77" cy="584.9" r="2.25" fill="#E69B73"/>
<circle cx="311.77" cy="598.5" r="2.25" fill="#E69B73"/>
<circle cx="322.37" cy="568.5" r="2.25" fill="#9FAAD6"/>
<circle cx="322.37" cy="572.6" r="2.25" fill="#9FAAD6"/>
<circle cx="322.37" cy="578.1" r="2.25" fill="#9FAAD6"/>
<circle cx="332.97" cy="587.6" r="2.25" fill="#90C9AE"/>
<circle cx="332.97" cy="589.8" r="2.25" fill="#90C9AE"/>
<circle cx="332.97" cy="632.6" r="2.25" fill="#90C9AE"/>
<ellipse cx="40.1" cy="696.7" rx="3.5" ry="2.3" fill="#E69B73"/>
<ellipse cx="50.7" cy="696.7" rx="3.5" ry="2.3" fill="#9FAAD6"/>
<ellipse cx="61.3" cy="696.7" rx="3.5" ry="2.3" fill="#90C9AE"/>
<line x1="32.9" y1="485.2" x2="38.7" y2="485.2" stroke="#222" stroke-width="0.9"/>
<line x1="32.9" y1="590.9" x2="38.7" y2="590.9" stroke="#222" stroke-width="0.9"/>
<line x1="32.9" y1="696.7" x2="38.7" y2="696.7" stroke="#222" stroke-width="0.9"/>
<text class="tk" transform="translate(13.22,491.98) rotate(0.03)">10</text>
<text class="tk" transform="translate(21.87,595.57) rotate(0.03)">5</text>
<text class="tk" transform="translate(22.01,700.42) rotate(0.03)">0</text>
<text class="tt" transform="translate(39.87,503.55) rotate(0.03)">Mouse spleen</text>
<text class="yl" transform="translate(13.46,659.11) rotate(-89.97)">% of deformation</text>
<text class="tk" transform="translate(47.64,715.67) rotate(0.03)">0</text>
<text class="tk" transform="translate(86.76,715.69) rotate(0.03)">1</text>
<text class="tk" transform="translate(124.77,715.68) rotate(0.03)">3</text>
<text class="tk" transform="translate(162.90,715.68) rotate(0.03)">6</text>
<text class="tk" transform="translate(196.77,715.80) rotate(0.03)">12</text>
<text class="tk" transform="translate(234.20,715.81) rotate(0.03)">24</text>
<text class="tk" transform="translate(272.67,715.80) rotate(0.03)">72</text>
<text class="tk" transform="translate(308.95,715.64) rotate(0.03)">168</text>
<text class="xl" transform="translate(101.08,736.04) rotate(0.03)">Incubation time (H)</text>
<line x1="377" y1="22" x2="377" y2="233.9" stroke="#383838" stroke-width="1"/>
<line x1="376.5" y1="22.5" x2="683.6" y2="22.5" stroke="#383838" stroke-width="1"/>
<line x1="683.1" y1="22.5" x2="683.1" y2="233.4" stroke="#383838" stroke-width="1"/>
<line x1="377" y1="233.4" x2="683.6" y2="233.4" stroke="#444" stroke-width="1"/>
<line x1="377" y1="233.4" x2="683.6" y2="233.4" stroke="#000" stroke-width="1.9" stroke-dasharray="1.9 1.2"/>
<line x1="401.5" y1="233.4" x2="401.5" y2="228.9" stroke="#333" stroke-width="1"/>
<line x1="438.2" y1="233.4" x2="438.2" y2="228.9" stroke="#333" stroke-width="1"/>
<line x1="474.9" y1="233.4" x2="474.9" y2="228.9" stroke="#333" stroke-width="1"/>
<line x1="511.6" y1="233.4" x2="511.6" y2="228.9" stroke="#333" stroke-width="1"/>
<line x1="548.3" y1="233.4" x2="548.3" y2="228.9" stroke="#333" stroke-width="1"/>
<line x1="585" y1="233.4" x2="585" y2="228.9" stroke="#333" stroke-width="1"/>
<line x1="621.7" y1="233.4" x2="621.7" y2="228.9" stroke="#333" stroke-width="1"/>
<line x1="658.4" y1="233.4" x2="658.4" y2="228.9" stroke="#333" stroke-width="1"/>
<line x1="621.7" y1="189.5" x2="621.7" y2="229.8" stroke="#2a2a2a" stroke-width="1.2"/>
<line x1="619.5" y1="189.5" x2="623.9" y2="189.5" stroke="#2a2a2a" stroke-width="1.3"/>
<line x1="619.5" y1="209.4" x2="623.9" y2="209.4" stroke="#2a2a2a" stroke-width="1.3"/>
<line x1="619.5" y1="220.3" x2="623.9" y2="220.3" stroke="#2a2a2a" stroke-width="1.3"/>
<line x1="619.5" y1="229.8" x2="623.9" y2="229.8" stroke="#2a2a2a" stroke-width="1.3"/>
<line x1="658.4" y1="83.7" x2="658.4" y2="138" stroke="#2a2a2a" stroke-width="1.2"/>
<line x1="656.2" y1="83.7" x2="660.6" y2="83.7" stroke="#2a2a2a" stroke-width="1.3"/>
<line x1="656.2" y1="138" x2="660.6" y2="138" stroke="#2a2a2a" stroke-width="1.3"/>
<line x1="658.4" y1="164.5" x2="658.4" y2="221" stroke="#2a2a2a" stroke-width="1.2"/>
<line x1="656.2" y1="164.5" x2="660.6" y2="164.5" stroke="#2a2a2a" stroke-width="1.3"/>
<line x1="656.2" y1="197" x2="660.6" y2="197" stroke="#2a2a2a" stroke-width="1.3"/>
<line x1="656.2" y1="221" x2="660.6" y2="221" stroke="#2a2a2a" stroke-width="1.3"/>
<polyline points="401.5,233.4 438.2,233.4 474.9,233.4 511.6,233.4 548.3,233.4 585,233.4 621.7,233.4 658.4,200.4" fill="none" stroke="#E69B73" stroke-width="1.65" stroke-linejoin="round"/>
<line x1="401.5" y1="233.4" x2="438.2" y2="233.4" stroke="#E69B73" stroke-width="2.1"/>
<line x1="438.2" y1="233.4" x2="474.9" y2="233.4" stroke="#E69B73" stroke-width="2.1"/>
<line x1="474.9" y1="233.4" x2="511.6" y2="233.4" stroke="#E69B73" stroke-width="2.1"/>
<line x1="511.6" y1="233.4" x2="548.3" y2="233.4" stroke="#E69B73" stroke-width="2.1"/>
<line x1="548.3" y1="233.4" x2="585" y2="233.4" stroke="#E69B73" stroke-width="2.1"/>
<line x1="585" y1="233.4" x2="621.7" y2="233.4" stroke="#E69B73" stroke-width="2.1"/>
<circle cx="621.7" cy="233.4" r="2.1" fill="#E18C62"/>
<circle cx="658.4" cy="200.4" r="2.1" fill="#E18C62"/>
<polyline points="401.5,233.4 438.2,233.4 474.9,233.4 511.6,233.4 548.3,233.4 585,233.4 621.7,220 658.4,110.7" fill="none" stroke="#A0AAD8" stroke-width="1.65" stroke-linejoin="round"/>
<line x1="401.5" y1="233.4" x2="438.2" y2="233.4" stroke="#A0AAD8" stroke-width="2.1"/>
<line x1="438.2" y1="233.4" x2="474.9" y2="233.4" stroke="#A0AAD8" stroke-width="2.1"/>
<line x1="474.9" y1="233.4" x2="511.6" y2="233.4" stroke="#A0AAD8" stroke-width="2.1"/>
<line x1="511.6" y1="233.4" x2="548.3" y2="233.4" stroke="#A0AAD8" stroke-width="2.1"/>
<line x1="548.3" y1="233.4" x2="585" y2="233.4" stroke="#A0AAD8" stroke-width="2.1"/>
<circle cx="621.7" cy="220" r="1.7" fill="#92A0C8"/>
<circle cx="658.4" cy="110.7" r="1.7" fill="#92A0C8"/>
<polyline points="401.5,233.4 438.2,233.4 474.9,233.4 511.6,233.4 548.3,233.4 585,233.4 621.7,205.4 658.4,180.9" fill="none" stroke="#8FC9AE" stroke-width="1.65" stroke-linejoin="round"/>
<line x1="401.5" y1="233.4" x2="438.2" y2="233.4" stroke="#8FC9AE" stroke-width="2.1"/>
<line x1="438.2" y1="233.4" x2="474.9" y2="233.4" stroke="#8FC9AE" stroke-width="2.1"/>
<line x1="474.9" y1="233.4" x2="511.6" y2="233.4" stroke="#8FC9AE" stroke-width="2.1"/>
<line x1="511.6" y1="233.4" x2="548.3" y2="233.4" stroke="#8FC9AE" stroke-width="2.1"/>
<line x1="548.3" y1="233.4" x2="585" y2="233.4" stroke="#8FC9AE" stroke-width="2.1"/>
<circle cx="401.5" cy="233.4" r="1.7" fill="#86C2A5"/>
<circle cx="438.2" cy="233.4" r="1.7" fill="#86C2A5"/>
<circle cx="474.9" cy="233.4" r="1.7" fill="#86C2A5"/>
<circle cx="511.6" cy="233.4" r="1.7" fill="#86C2A5"/>
<circle cx="548.3" cy="233.4" r="1.7" fill="#86C2A5"/>
<circle cx="585" cy="233.4" r="1.7" fill="#86C2A5"/>
<circle cx="621.7" cy="205.4" r="1.7" fill="#86C2A5"/>
<circle cx="658.4" cy="180.9" r="1.7" fill="#86C2A5"/>
<line x1="377" y1="22.4" x2="382.8" y2="22.4" stroke="#222" stroke-width="0.9"/>
<line x1="377" y1="92.5" x2="382.8" y2="92.5" stroke="#222" stroke-width="0.9"/>
<line x1="377" y1="163.1" x2="382.8" y2="163.1" stroke="#222" stroke-width="0.9"/>
<line x1="377" y1="233.4" x2="382.8" y2="233.4" stroke="#222" stroke-width="0.9"/>
<text class="tk" transform="translate(366.22,29.73) rotate(0.03)">3</text>
<text class="tk" transform="translate(366.57,97.86) rotate(0.03)">2</text>
<text class="tk" transform="translate(364.44,167.99) rotate(0.03)">1</text>
<text class="tk" transform="translate(366.21,238.22) rotate(0.03)">0</text>
<text class="tt" transform="translate(388.05,38.48) rotate(0.03)">Rat Ach tendon</text>
<text class="yl" transform="translate(357.44,198.22) rotate(-89.97)">Protein loss (ug/mg)</text>
<g transform="translate(658.8,60)" fill="#111"><path d="M-0.31,0 L-0.94,-3.21 A0.94,0.94 0 0 1 0.94,-3.21 L0.31,0 Z" transform="rotate(0)"/><path d="M-0.31,0 L-0.94,-3.21 A0.94,0.94 0 0 1 0.94,-3.21 L0.31,0 Z" transform="rotate(60)"/><path d="M-0.31,0 L-0.94,-3.21 A0.94,0.94 0 0 1 0.94,-3.21 L0.31,0 Z" transform="rotate(120)"/><path d="M-0.31,0 L-0.94,-3.21 A0.94,0.94 0 0 1 0.94,-3.21 L0.31,0 Z" transform="rotate(180)"/><path d="M-0.31,0 L-0.94,-3.21 A0.94,0.94 0 0 1 0.94,-3.21 L0.31,0 Z" transform="rotate(240)"/><path d="M-0.31,0 L-0.94,-3.21 A0.94,0.94 0 0 1 0.94,-3.21 L0.31,0 Z" transform="rotate(300)"/><circle r="0.89"/></g>
<text class="hs" transform="translate(651.50,78.35) rotate(0.03)">##</text>
<g transform="translate(602.4,160.4)" fill="#111"><path d="M-0.31,0 L-0.94,-3.21 A0.94,0.94 0 0 1 0.94,-3.21 L0.31,0 Z" transform="rotate(0)"/><path d="M-0.31,0 L-0.94,-3.21 A0.94,0.94 0 0 1 0.94,-3.21 L0.31,0 Z" transform="rotate(60)"/><path d="M-0.31,0 L-0.94,-3.21 A0.94,0.94 0 0 1 0.94,-3.21 L0.31,0 Z" transform="rotate(120)"/><path d="M-0.31,0 L-0.94,-3.21 A0.94,0.94 0 0 1 0.94,-3.21 L0.31,0 Z" transform="rotate(180)"/><path d="M-0.31,0 L-0.94,-3.21 A0.94,0.94 0 0 1 0.94,-3.21 L0.31,0 Z" transform="rotate(240)"/><path d="M-0.31,0 L-0.94,-3.21 A0.94,0.94 0 0 1 0.94,-3.21 L0.31,0 Z" transform="rotate(300)"/><circle r="0.89"/></g>
<g transform="translate(612.6,160.4)" fill="#111"><path d="M-0.31,0 L-0.94,-3.21 A0.94,0.94 0 0 1 0.94,-3.21 L0.31,0 Z" transform="rotate(0)"/><path d="M-0.31,0 L-0.94,-3.21 A0.94,0.94 0 0 1 0.94,-3.21 L0.31,0 Z" transform="rotate(60)"/><path d="M-0.31,0 L-0.94,-3.21 A0.94,0.94 0 0 1 0.94,-3.21 L0.31,0 Z" transform="rotate(120)"/><path d="M-0.31,0 L-0.94,-3.21 A0.94,0.94 0 0 1 0.94,-3.21 L0.31,0 Z" transform="rotate(180)"/><path d="M-0.31,0 L-0.94,-3.21 A0.94,0.94 0 0 1 0.94,-3.21 L0.31,0 Z" transform="rotate(240)"/><path d="M-0.31,0 L-0.94,-3.21 A0.94,0.94 0 0 1 0.94,-3.21 L0.31,0 Z" transform="rotate(300)"/><circle r="0.89"/></g>
<g transform="translate(622.8,160.4)" fill="#111"><path d="M-0.31,0 L-0.94,-3.21 A0.94,0.94 0 0 1 0.94,-3.21 L0.31,0 Z" transform="rotate(0)"/><path d="M-0.31,0 L-0.94,-3.21 A0.94,0.94 0 0 1 0.94,-3.21 L0.31,0 Z" transform="rotate(60)"/><path d="M-0.31,0 L-0.94,-3.21 A0.94,0.94 0 0 1 0.94,-3.21 L0.31,0 Z" transform="rotate(120)"/><path d="M-0.31,0 L-0.94,-3.21 A0.94,0.94 0 0 1 0.94,-3.21 L0.31,0 Z" transform="rotate(180)"/><path d="M-0.31,0 L-0.94,-3.21 A0.94,0.94 0 0 1 0.94,-3.21 L0.31,0 Z" transform="rotate(240)"/><path d="M-0.31,0 L-0.94,-3.21 A0.94,0.94 0 0 1 0.94,-3.21 L0.31,0 Z" transform="rotate(300)"/><circle r="0.89"/></g>
<g transform="translate(633,160.4)" fill="#111"><path d="M-0.31,0 L-0.94,-3.21 A0.94,0.94 0 0 1 0.94,-3.21 L0.31,0 Z" transform="rotate(0)"/><path d="M-0.31,0 L-0.94,-3.21 A0.94,0.94 0 0 1 0.94,-3.21 L0.31,0 Z" transform="rotate(60)"/><path d="M-0.31,0 L-0.94,-3.21 A0.94,0.94 0 0 1 0.94,-3.21 L0.31,0 Z" transform="rotate(120)"/><path d="M-0.31,0 L-0.94,-3.21 A0.94,0.94 0 0 1 0.94,-3.21 L0.31,0 Z" transform="rotate(180)"/><path d="M-0.31,0 L-0.94,-3.21 A0.94,0.94 0 0 1 0.94,-3.21 L0.31,0 Z" transform="rotate(240)"/><path d="M-0.31,0 L-0.94,-3.21 A0.94,0.94 0 0 1 0.94,-3.21 L0.31,0 Z" transform="rotate(300)"/><circle r="0.89"/></g>
<line x1="378.88" y1="254.4" x2="378.88" y2="463.8" stroke="#383838" stroke-width="1"/>
<line x1="378.38" y1="254.9" x2="683" y2="254.9" stroke="#383838" stroke-width="1"/>
<line x1="682.5" y1="254.9" x2="682.5" y2="463.3" stroke="#383838" stroke-width="1"/>
<line x1="378.88" y1="463.3" x2="683" y2="463.3" stroke="#444" stroke-width="1"/>
<line x1="378.88" y1="463.3" x2="683" y2="463.3" stroke="#000" stroke-width="1.9" stroke-dasharray="1.9 1.2"/>
<line x1="402.9" y1="463.3" x2="402.9" y2="458.8" stroke="#333" stroke-width="1"/>
<line x1="439.31" y1="463.3" x2="439.31" y2="458.8" stroke="#333" stroke-width="1"/>
<line x1="475.72" y1="463.3" x2="475.72" y2="458.8" stroke="#333" stroke-width="1"/>
<line x1="512.13" y1="463.3" x2="512.13" y2="458.8" stroke="#333" stroke-width="1"/>
<line x1="548.54" y1="463.3" x2="548.54" y2="458.8" stroke="#333" stroke-width="1"/>
<line x1="584.95" y1="463.3" x2="584.95" y2="458.8" stroke="#333" stroke-width="1"/>
<line x1="621.36" y1="463.3" x2="621.36" y2="458.8" stroke="#333" stroke-width="1"/>
<line x1="657.77" y1="463.3" x2="657.77" y2="458.8" stroke="#333" stroke-width="1"/>
<line x1="621.36" y1="397.5" x2="621.36" y2="451" stroke="#2a2a2a" stroke-width="1.2"/>
<line x1="619.16" y1="397.5" x2="623.56" y2="397.5" stroke="#2a2a2a" stroke-width="1.3"/>
<line x1="619.16" y1="421.1" x2="623.56" y2="421.1" stroke="#2a2a2a" stroke-width="1.3"/>
<line x1="619.16" y1="428.7" x2="623.56" y2="428.7" stroke="#2a2a2a" stroke-width="1.3"/>
<line x1="619.16" y1="451" x2="623.56" y2="451" stroke="#2a2a2a" stroke-width="1.3"/>
<line x1="657.77" y1="278.6" x2="657.77" y2="384.5" stroke="#2a2a2a" stroke-width="1.2"/>
<line x1="655.57" y1="278.6" x2="659.97" y2="278.6" stroke="#2a2a2a" stroke-width="1.3"/>
<line x1="655.57" y1="333.7" x2="659.97" y2="333.7" stroke="#2a2a2a" stroke-width="1.3"/>
<line x1="655.57" y1="342.4" x2="659.97" y2="342.4" stroke="#2a2a2a" stroke-width="1.3"/>
<line x1="655.57" y1="384.5" x2="659.97" y2="384.5" stroke="#2a2a2a" stroke-width="1.3"/>
<line x1="657.77" y1="442.3" x2="657.77" y2="455.3" stroke="#2a2a2a" stroke-width="1.2"/>
<line x1="655.57" y1="442.3" x2="659.97" y2="442.3" stroke="#2a2a2a" stroke-width="1.3"/>
<line x1="655.57" y1="455.3" x2="659.97" y2="455.3" stroke="#2a2a2a" stroke-width="1.3"/>
<polyline points="402.9,463.3 439.31,463.3 475.72,463.3 512.13,463.3 548.54,463.3 584.95,463.3 621.36,463.3 657.77,449.1" fill="none" stroke="#E69B73" stroke-width="1.65" stroke-linejoin="round"/>
<line x1="402.9" y1="463.3" x2="439.31" y2="463.3" stroke="#E69B73" stroke-width="2.1"/>
<line x1="439.31" y1="463.3" x2="475.72" y2="463.3" stroke="#E69B73" stroke-width="2.1"/>
<line x1="475.72" y1="463.3" x2="512.13" y2="463.3" stroke="#E69B73" stroke-width="2.1"/>
<line x1="512.13" y1="463.3" x2="548.54" y2="463.3" stroke="#E69B73" stroke-width="2.1"/>
<line x1="548.54" y1="463.3" x2="584.95" y2="463.3" stroke="#E69B73" stroke-width="2.1"/>
<line x1="584.95" y1="463.3" x2="621.36" y2="463.3" stroke="#E69B73" stroke-width="2.1"/>
<circle cx="621.36" cy="463.3" r="2.1" fill="#E18C62"/>
<circle cx="657.77" cy="449.1" r="2.1" fill="#E18C62"/>
<polyline points="402.9,463.3 439.31,463.3 475.72,463.3 512.13,463.3 548.54,463.3 584.95,463.3 621.36,435.5 657.77,359" fill="none" stroke="#A0AAD8" stroke-width="1.65" stroke-linejoin="round"/>
<line x1="402.9" y1="463.3" x2="439.31" y2="463.3" stroke="#A0AAD8" stroke-width="2.1"/>
<line x1="439.31" y1="463.3" x2="475.72" y2="463.3" stroke="#A0AAD8" stroke-width="2.1"/>
<line x1="475.72" y1="463.3" x2="512.13" y2="463.3" stroke="#A0AAD8" stroke-width="2.1"/>
<line x1="512.13" y1="463.3" x2="548.54" y2="463.3" stroke="#A0AAD8" stroke-width="2.1"/>
<line x1="548.54" y1="463.3" x2="584.95" y2="463.3" stroke="#A0AAD8" stroke-width="2.1"/>
<circle cx="621.36" cy="435.5" r="1.7" fill="#92A0C8"/>
<circle cx="657.77" cy="359" r="1.7" fill="#92A0C8"/>
<polyline points="402.9,463.3 439.31,463.3 475.72,463.3 512.13,463.3 548.54,463.3 584.95,463.3 621.36,416 657.77,310.6" fill="none" stroke="#8FC9AE" stroke-width="1.65" stroke-linejoin="round"/>
<line x1="402.9" y1="463.3" x2="439.31" y2="463.3" stroke="#8FC9AE" stroke-width="2.1"/>
<line x1="439.31" y1="463.3" x2="475.72" y2="463.3" stroke="#8FC9AE" stroke-width="2.1"/>
<line x1="475.72" y1="463.3" x2="512.13" y2="463.3" stroke="#8FC9AE" stroke-width="2.1"/>
<line x1="512.13" y1="463.3" x2="548.54" y2="463.3" stroke="#8FC9AE" stroke-width="2.1"/>
<line x1="548.54" y1="463.3" x2="584.95" y2="463.3" stroke="#8FC9AE" stroke-width="2.1"/>
<circle cx="402.9" cy="463.3" r="1.7" fill="#86C2A5"/>
<circle cx="439.31" cy="463.3" r="1.7" fill="#86C2A5"/>
<circle cx="475.72" cy="463.3" r="1.7" fill="#86C2A5"/>
<circle cx="512.13" cy="463.3" r="1.7" fill="#86C2A5"/>
<circle cx="548.54" cy="463.3" r="1.7" fill="#86C2A5"/>
<circle cx="584.95" cy="463.3" r="1.7" fill="#86C2A5"/>
<circle cx="621.36" cy="416" r="1.7" fill="#86C2A5"/>
<circle cx="657.77" cy="310.6" r="1.7" fill="#86C2A5"/>
<line x1="378.88" y1="254.9" x2="384.68" y2="254.9" stroke="#222" stroke-width="0.9"/>
<line x1="378.88" y1="359.1" x2="384.68" y2="359.1" stroke="#222" stroke-width="0.9"/>
<line x1="378.88" y1="463.3" x2="384.68" y2="463.3" stroke="#222" stroke-width="0.9"/>
<text class="tk" transform="translate(356.42,264.83) rotate(0.03)">10</text>
<text class="tk" transform="translate(365.57,364.17) rotate(0.03)">5</text>
<text class="tk" transform="translate(365.71,468.42) rotate(0.03)">0</text>
<text class="tt" transform="translate(387.80,271.34) rotate(0.03)">Mouse TA muscle</text>
<text class="yl" transform="translate(358.29,425.22) rotate(-89.97)">Protein loss (ug/mg)</text>
<g transform="translate(642.5,268.5)" fill="#111"><path d="M-0.31,0 L-0.94,-3.21 A0.94,0.94 0 0 1 0.94,-3.21 L0.31,0 Z" transform="rotate(0)"/><path d="M-0.31,0 L-0.94,-3.21 A0.94,0.94 0 0 1 0.94,-3.21 L0.31,0 Z" transform="rotate(60)"/><path d="M-0.31,0 L-0.94,-3.21 A0.94,0.94 0 0 1 0.94,-3.21 L0.31,0 Z" transform="rotate(120)"/><path d="M-0.31,0 L-0.94,-3.21 A0.94,0.94 0 0 1 0.94,-3.21 L0.31,0 Z" transform="rotate(180)"/><path d="M-0.31,0 L-0.94,-3.21 A0.94,0.94 0 0 1 0.94,-3.21 L0.31,0 Z" transform="rotate(240)"/><path d="M-0.31,0 L-0.94,-3.21 A0.94,0.94 0 0 1 0.94,-3.21 L0.31,0 Z" transform="rotate(300)"/><circle r="0.89"/></g>
<g transform="translate(603.3,383.4)" fill="#111"><path d="M-0.31,0 L-0.94,-3.21 A0.94,0.94 0 0 1 0.94,-3.21 L0.31,0 Z" transform="rotate(0)"/><path d="M-0.31,0 L-0.94,-3.21 A0.94,0.94 0 0 1 0.94,-3.21 L0.31,0 Z" transform="rotate(60)"/><path d="M-0.31,0 L-0.94,-3.21 A0.94,0.94 0 0 1 0.94,-3.21 L0.31,0 Z" transform="rotate(120)"/><path d="M-0.31,0 L-0.94,-3.21 A0.94,0.94 0 0 1 0.94,-3.21 L0.31,0 Z" transform="rotate(180)"/><path d="M-0.31,0 L-0.94,-3.21 A0.94,0.94 0 0 1 0.94,-3.21 L0.31,0 Z" transform="rotate(240)"/><path d="M-0.31,0 L-0.94,-3.21 A0.94,0.94 0 0 1 0.94,-3.21 L0.31,0 Z" transform="rotate(300)"/><circle r="0.89"/></g>
<g transform="translate(652.7,268.5)" fill="#111"><path d="M-0.31,0 L-0.94,-3.21 A0.94,0.94 0 0 1 0.94,-3.21 L0.31,0 Z" transform="rotate(0)"/><path d="M-0.31,0 L-0.94,-3.21 A0.94,0.94 0 0 1 0.94,-3.21 L0.31,0 Z" transform="rotate(60)"/><path d="M-0.31,0 L-0.94,-3.21 A0.94,0.94 0 0 1 0.94,-3.21 L0.31,0 Z" transform="rotate(120)"/><path d="M-0.31,0 L-0.94,-3.21 A0.94,0.94 0 0 1 0.94,-3.21 L0.31,0 Z" transform="rotate(180)"/><path d="M-0.31,0 L-0.94,-3.21 A0.94,0.94 0 0 1 0.94,-3.21 L0.31,0 Z" transform="rotate(240)"/><path d="M-0.31,0 L-0.94,-3.21 A0.94,0.94 0 0 1 0.94,-3.21 L0.31,0 Z" transform="rotate(300)"/><circle r="0.89"/></g>
<g transform="translate(613.5,383.4)" fill="#111"><path d="M-0.31,0 L-0.94,-3.21 A0.94,0.94 0 0 1 0.94,-3.21 L0.31,0 Z" transform="rotate(0)"/><path d="M-0.31,0 L-0.94,-3.21 A0.94,0.94 0 0 1 0.94,-3.21 L0.31,0 Z" transform="rotate(60)"/><path d="M-0.31,0 L-0.94,-3.21 A0.94,0.94 0 0 1 0.94,-3.21 L0.31,0 Z" transform="rotate(120)"/><path d="M-0.31,0 L-0.94,-3.21 A0.94,0.94 0 0 1 0.94,-3.21 L0.31,0 Z" transform="rotate(180)"/><path d="M-0.31,0 L-0.94,-3.21 A0.94,0.94 0 0 1 0.94,-3.21 L0.31,0 Z" transform="rotate(240)"/><path d="M-0.31,0 L-0.94,-3.21 A0.94,0.94 0 0 1 0.94,-3.21 L0.31,0 Z" transform="rotate(300)"/><circle r="0.89"/></g>
<g transform="translate(662.9,268.5)" fill="#111"><path d="M-0.31,0 L-0.94,-3.21 A0.94,0.94 0 0 1 0.94,-3.21 L0.31,0 Z" transform="rotate(0)"/><path d="M-0.31,0 L-0.94,-3.21 A0.94,0.94 0 0 1 0.94,-3.21 L0.31,0 Z" transform="rotate(60)"/><path d="M-0.31,0 L-0.94,-3.21 A0.94,0.94 0 0 1 0.94,-3.21 L0.31,0 Z" transform="rotate(120)"/><path d="M-0.31,0 L-0.94,-3.21 A0.94,0.94 0 0 1 0.94,-3.21 L0.31,0 Z" transform="rotate(180)"/><path d="M-0.31,0 L-0.94,-3.21 A0.94,0.94 0 0 1 0.94,-3.21 L0.31,0 Z" transform="rotate(240)"/><path d="M-0.31,0 L-0.94,-3.21 A0.94,0.94 0 0 1 0.94,-3.21 L0.31,0 Z" transform="rotate(300)"/><circle r="0.89"/></g>
<g transform="translate(623.7,383.4)" fill="#111"><path d="M-0.31,0 L-0.94,-3.21 A0.94,0.94 0 0 1 0.94,-3.21 L0.31,0 Z" transform="rotate(0)"/><path d="M-0.31,0 L-0.94,-3.21 A0.94,0.94 0 0 1 0.94,-3.21 L0.31,0 Z" transform="rotate(60)"/><path d="M-0.31,0 L-0.94,-3.21 A0.94,0.94 0 0 1 0.94,-3.21 L0.31,0 Z" transform="rotate(120)"/><path d="M-0.31,0 L-0.94,-3.21 A0.94,0.94 0 0 1 0.94,-3.21 L0.31,0 Z" transform="rotate(180)"/><path d="M-0.31,0 L-0.94,-3.21 A0.94,0.94 0 0 1 0.94,-3.21 L0.31,0 Z" transform="rotate(240)"/><path d="M-0.31,0 L-0.94,-3.21 A0.94,0.94 0 0 1 0.94,-3.21 L0.31,0 Z" transform="rotate(300)"/><circle r="0.89"/></g>
<g transform="translate(673.1,268.5)" fill="#111"><path d="M-0.31,0 L-0.94,-3.21 A0.94,0.94 0 0 1 0.94,-3.21 L0.31,0 Z" transform="rotate(0)"/><path d="M-0.31,0 L-0.94,-3.21 A0.94,0.94 0 0 1 0.94,-3.21 L0.31,0 Z" transform="rotate(60)"/><path d="M-0.31,0 L-0.94,-3.21 A0.94,0.94 0 0 1 0.94,-3.21 L0.31,0 Z" transform="rotate(120)"/><path d="M-0.31,0 L-0.94,-3.21 A0.94,0.94 0 0 1 0.94,-3.21 L0.31,0 Z" transform="rotate(180)"/><path d="M-0.31,0 L-0.94,-3.21 A0.94,0.94 0 0 1 0.94,-3.21 L0.31,0 Z" transform="rotate(240)"/><path d="M-0.31,0 L-0.94,-3.21 A0.94,0.94 0 0 1 0.94,-3.21 L0.31,0 Z" transform="rotate(300)"/><circle r="0.89"/></g>
<g transform="translate(633.9,383.4)" fill="#111"><path d="M-0.31,0 L-0.94,-3.21 A0.94,0.94 0 0 1 0.94,-3.21 L0.31,0 Z" transform="rotate(0)"/><path d="M-0.31,0 L-0.94,-3.21 A0.94,0.94 0 0 1 0.94,-3.21 L0.31,0 Z" transform="rotate(60)"/><path d="M-0.31,0 L-0.94,-3.21 A0.94,0.94 0 0 1 0.94,-3.21 L0.31,0 Z" transform="rotate(120)"/><path d="M-0.31,0 L-0.94,-3.21 A0.94,0.94 0 0 1 0.94,-3.21 L0.31,0 Z" transform="rotate(180)"/><path d="M-0.31,0 L-0.94,-3.21 A0.94,0.94 0 0 1 0.94,-3.21 L0.31,0 Z" transform="rotate(240)"/><path d="M-0.31,0 L-0.94,-3.21 A0.94,0.94 0 0 1 0.94,-3.21 L0.31,0 Z" transform="rotate(300)"/><circle r="0.89"/></g>
<line x1="378.93" y1="485.5" x2="378.93" y2="694.9" stroke="#383838" stroke-width="1"/>
<line x1="378.43" y1="486" x2="683" y2="486" stroke="#383838" stroke-width="1"/>
<line x1="682.5" y1="486" x2="682.5" y2="694.4" stroke="#383838" stroke-width="1"/>
<line x1="378.93" y1="694.4" x2="683" y2="694.4" stroke="#444" stroke-width="1"/>
<line x1="378.93" y1="694.4" x2="683" y2="694.4" stroke="#000" stroke-width="1.9" stroke-dasharray="1.9 1.2"/>
<line x1="403.1" y1="694.4" x2="403.1" y2="689.9" stroke="#333" stroke-width="1"/>
<line x1="439.53" y1="694.4" x2="439.53" y2="689.9" stroke="#333" stroke-width="1"/>
<line x1="475.96" y1="694.4" x2="475.96" y2="689.9" stroke="#333" stroke-width="1"/>
<line x1="512.39" y1="694.4" x2="512.39" y2="689.9" stroke="#333" stroke-width="1"/>
<line x1="548.82" y1="694.4" x2="548.82" y2="689.9" stroke="#333" stroke-width="1"/>
<line x1="585.25" y1="694.4" x2="585.25" y2="689.9" stroke="#333" stroke-width="1"/>
<line x1="621.68" y1="694.4" x2="621.68" y2="689.9" stroke="#333" stroke-width="1"/>
<line x1="658.11" y1="694.4" x2="658.11" y2="689.9" stroke="#333" stroke-width="1"/>
<line x1="439.53" y1="680.2" x2="439.53" y2="683.4" stroke="#2a2a2a" stroke-width="1.2"/>
<line x1="437.33" y1="680.2" x2="441.73" y2="680.2" stroke="#2a2a2a" stroke-width="1.3"/>
<line x1="437.33" y1="683.4" x2="441.73" y2="683.4" stroke="#2a2a2a" stroke-width="1.3"/>
<line x1="439.53" y1="685.1" x2="439.53" y2="692.3" stroke="#2a2a2a" stroke-width="1.2"/>
<line x1="437.33" y1="685.1" x2="441.73" y2="685.1" stroke="#2a2a2a" stroke-width="1.3"/>
<line x1="437.33" y1="692.3" x2="441.73" y2="692.3" stroke="#2a2a2a" stroke-width="1.3"/>
<line x1="475.96" y1="664.2" x2="475.96" y2="671.2" stroke="#2a2a2a" stroke-width="1.2"/>
<line x1="473.76" y1="664.2" x2="478.16" y2="664.2" stroke="#2a2a2a" stroke-width="1.3"/>
<line x1="473.76" y1="671.2" x2="478.16" y2="671.2" stroke="#2a2a2a" stroke-width="1.3"/>
<line x1="475.96" y1="679.1" x2="475.96" y2="688.1" stroke="#2a2a2a" stroke-width="1.2"/>
<line x1="473.76" y1="679.1" x2="478.16" y2="679.1" stroke="#2a2a2a" stroke-width="1.3"/>
<line x1="473.76" y1="688.1" x2="478.16" y2="688.1" stroke="#2a2a2a" stroke-width="1.3"/>
<line x1="512.39" y1="658.9" x2="512.39" y2="664.2" stroke="#2a2a2a" stroke-width="1.2"/>
<line x1="510.19" y1="658.9" x2="514.59" y2="658.9" stroke="#2a2a2a" stroke-width="1.3"/>
<line x1="510.19" y1="664.2" x2="514.59" y2="664.2" stroke="#2a2a2a" stroke-width="1.3"/>
<line x1="512.39" y1="670.8" x2="512.39" y2="676" stroke="#2a2a2a" stroke-width="1.2"/>
<line x1="510.19" y1="670.8" x2="514.59" y2="670.8" stroke="#2a2a2a" stroke-width="1.3"/>
<line x1="510.19" y1="676" x2="514.59" y2="676" stroke="#2a2a2a" stroke-width="1.3"/>
<line x1="512.39" y1="676.4" x2="512.39" y2="684.3" stroke="#2a2a2a" stroke-width="1.2"/>
<line x1="510.19" y1="684.3" x2="514.59" y2="684.3" stroke="#2a2a2a" stroke-width="1.3"/>
<line x1="548.82" y1="605.5" x2="548.82" y2="624.6" stroke="#2a2a2a" stroke-width="1.2"/>
<line x1="546.62" y1="605.5" x2="551.02" y2="605.5" stroke="#2a2a2a" stroke-width="1.3"/>
<line x1="546.62" y1="624.6" x2="551.02" y2="624.6" stroke="#2a2a2a" stroke-width="1.3"/>
<line x1="548.82" y1="628.7" x2="548.82" y2="658.2" stroke="#2a2a2a" stroke-width="1.2"/>
<line x1="546.62" y1="628.7" x2="551.02" y2="628.7" stroke="#2a2a2a" stroke-width="1.3"/>
<line x1="546.62" y1="650.2" x2="551.02" y2="650.2" stroke="#2a2a2a" stroke-width="1.3"/>
<line x1="546.62" y1="658.2" x2="551.02" y2="658.2" stroke="#2a2a2a" stroke-width="1.3"/>
<line x1="585.25" y1="607.5" x2="585.25" y2="625.3" stroke="#2a2a2a" stroke-width="1.2"/>
<line x1="583.05" y1="607.5" x2="587.45" y2="607.5" stroke="#2a2a2a" stroke-width="1.3"/>
<line x1="583.05" y1="625.3" x2="587.45" y2="625.3" stroke="#2a2a2a" stroke-width="1.3"/>
<line x1="585.25" y1="630.3" x2="585.25" y2="664.5" stroke="#2a2a2a" stroke-width="1.2"/>
<line x1="583.05" y1="630.3" x2="587.45" y2="630.3" stroke="#2a2a2a" stroke-width="1.3"/>
<line x1="583.05" y1="654.3" x2="587.45" y2="654.3" stroke="#2a2a2a" stroke-width="1.3"/>
<line x1="583.05" y1="664.5" x2="587.45" y2="664.5" stroke="#2a2a2a" stroke-width="1.3"/>
<line x1="621.68" y1="597.6" x2="621.68" y2="619.4" stroke="#2a2a2a" stroke-width="1.2"/>
<line x1="619.48" y1="597.6" x2="623.88" y2="597.6" stroke="#2a2a2a" stroke-width="1.3"/>
<line x1="619.48" y1="619.4" x2="623.88" y2="619.4" stroke="#2a2a2a" stroke-width="1.3"/>
<line x1="621.68" y1="631" x2="621.68" y2="656.8" stroke="#2a2a2a" stroke-width="1.2"/>
<line x1="619.48" y1="631" x2="623.88" y2="631" stroke="#2a2a2a" stroke-width="1.3"/>
<line x1="619.48" y1="635.7" x2="623.88" y2="635.7" stroke="#2a2a2a" stroke-width="1.3"/>
<line x1="619.48" y1="640.3" x2="623.88" y2="640.3" stroke="#2a2a2a" stroke-width="1.3"/>
<line x1="619.48" y1="656.8" x2="623.88" y2="656.8" stroke="#2a2a2a" stroke-width="1.3"/>
<line x1="658.11" y1="514.3" x2="658.11" y2="560.5" stroke="#2a2a2a" stroke-width="1.2"/>
<line x1="655.91" y1="514.3" x2="660.31" y2="514.3" stroke="#2a2a2a" stroke-width="1.3"/>
<line x1="655.91" y1="560.5" x2="660.31" y2="560.5" stroke="#2a2a2a" stroke-width="1.3"/>
<line x1="658.11" y1="570.5" x2="658.11" y2="593.6" stroke="#2a2a2a" stroke-width="1.2"/>
<line x1="655.91" y1="570.5" x2="660.31" y2="570.5" stroke="#2a2a2a" stroke-width="1.3"/>
<line x1="655.91" y1="576" x2="660.31" y2="576" stroke="#2a2a2a" stroke-width="1.3"/>
<line x1="655.91" y1="584" x2="660.31" y2="584" stroke="#2a2a2a" stroke-width="1.3"/>
<line x1="655.91" y1="593.6" x2="660.31" y2="593.6" stroke="#2a2a2a" stroke-width="1.3"/>
<polyline points="403.1,694.4 439.53,682.3 475.96,673.5 512.39,673.2 548.82,639.1 585.25,642 621.68,645.2 658.11,584.9" fill="none" stroke="#E69B73" stroke-width="1.65" stroke-linejoin="round"/>
<circle cx="439.53" cy="682.3" r="2.1" fill="#E18C62"/>
<circle cx="475.96" cy="673.5" r="2.1" fill="#E18C62"/>
<circle cx="512.39" cy="673.2" r="2.1" fill="#E18C62"/>
<circle cx="548.82" cy="639.1" r="2.1" fill="#E18C62"/>
<circle cx="585.25" cy="642" r="2.1" fill="#E18C62"/>
<circle cx="621.68" cy="645.2" r="2.1" fill="#E18C62"/>
<circle cx="658.11" cy="584.9" r="2.1" fill="#E18C62"/>
<polyline points="403.1,694.4 439.53,681.2 475.96,667.6 512.39,661 548.82,614.9 585.25,616.3 621.68,608.5 658.11,537.4" fill="none" stroke="#A0AAD8" stroke-width="1.65" stroke-linejoin="round"/>
<circle cx="439.53" cy="681.2" r="1.7" fill="#92A0C8"/>
<circle cx="475.96" cy="667.6" r="1.7" fill="#92A0C8"/>
<circle cx="512.39" cy="661" r="1.7" fill="#92A0C8"/>
<circle cx="548.82" cy="614.9" r="1.7" fill="#92A0C8"/>
<circle cx="585.25" cy="616.3" r="1.7" fill="#92A0C8"/>
<circle cx="621.68" cy="608.5" r="1.7" fill="#92A0C8"/>
<circle cx="658.11" cy="537.4" r="1.7" fill="#92A0C8"/>
<polyline points="403.1,694.4 439.53,688.2 475.96,684.1 512.39,680.6 548.82,654.3 585.25,659.4 621.68,634.3 658.11,577.3" fill="none" stroke="#8FC9AE" stroke-width="1.65" stroke-linejoin="round"/>
<circle cx="403.1" cy="694.4" r="1.7" fill="#86C2A5"/>
<circle cx="439.53" cy="688.2" r="1.7" fill="#86C2A5"/>
<circle cx="475.96" cy="684.1" r="1.7" fill="#86C2A5"/>
<circle cx="512.39" cy="680.6" r="1.7" fill="#86C2A5"/>
<circle cx="548.82" cy="654.3" r="1.7" fill="#86C2A5"/>
<circle cx="585.25" cy="659.4" r="1.7" fill="#86C2A5"/>
<circle cx="621.68" cy="634.3" r="1.7" fill="#86C2A5"/>
<circle cx="658.11" cy="577.3" r="1.7" fill="#86C2A5"/>
<line x1="378.93" y1="486" x2="384.73" y2="486" stroke="#222" stroke-width="0.9"/>
<line x1="378.93" y1="554.8" x2="384.73" y2="554.8" stroke="#222" stroke-width="0.9"/>
<line x1="378.93" y1="625" x2="384.73" y2="625" stroke="#222" stroke-width="0.9"/>
<line x1="378.93" y1="694.4" x2="384.73" y2="694.4" stroke="#222" stroke-width="0.9"/>
<text class="tk" transform="translate(358.78,495.34) rotate(0.03)">15</text>
<text class="tk" transform="translate(359.12,560.63) rotate(0.03)">10</text>
<text class="tk" transform="translate(367.77,630.42) rotate(0.03)">5</text>
<text class="tk" transform="translate(367.91,700.37) rotate(0.03)">0</text>
<text class="tt" transform="translate(387.87,503.55) rotate(0.03)">Mouse spleen</text>
<text class="yl" transform="translate(357.59,657.47) rotate(-89.97)">Protein loss (ug/mg)</text>
<text class="hs" transform="translate(473.56,645.80) rotate(0.03)">#</text>
<text class="hs" transform="translate(509.61,645.80) rotate(0.03)">#</text>
<text class="hs" transform="translate(535.76,602.05) rotate(0.03)">####</text>
<g transform="translate(586.1,575.4)" fill="#111"><path d="M-0.31,0 L-0.94,-3.21 A0.94,0.94 0 0 1 0.94,-3.21 L0.31,0 Z" transform="rotate(0)"/><path d="M-0.31,0 L-0.94,-3.21 A0.94,0.94 0 0 1 0.94,-3.21 L0.31,0 Z" transform="rotate(60)"/><path d="M-0.31,0 L-0.94,-3.21 A0.94,0.94 0 0 1 0.94,-3.21 L0.31,0 Z" transform="rotate(120)"/><path d="M-0.31,0 L-0.94,-3.21 A0.94,0.94 0 0 1 0.94,-3.21 L0.31,0 Z" transform="rotate(180)"/><path d="M-0.31,0 L-0.94,-3.21 A0.94,0.94 0 0 1 0.94,-3.21 L0.31,0 Z" transform="rotate(240)"/><path d="M-0.31,0 L-0.94,-3.21 A0.94,0.94 0 0 1 0.94,-3.21 L0.31,0 Z" transform="rotate(300)"/><circle r="0.89"/></g>
<text class="hs" transform="translate(574.41,593.35) rotate(0.03)">####</text>
<text class="hs" transform="translate(611.35,580.05) rotate(0.03)">###</text>
<text class="hs" transform="translate(645.16,510.85) rotate(0.03)">####</text>
<text class="tk" transform="translate(399.64,715.67) rotate(0.03)">0</text>
<text class="tk" transform="translate(435.76,715.69) rotate(0.03)">1</text>
<text class="tk" transform="translate(472.97,715.68) rotate(0.03)">3</text>
<text class="tk" transform="translate(509.10,715.68) rotate(0.03)">6</text>
<text class="tk" transform="translate(542.67,715.80) rotate(0.03)">12</text>
<text class="tk" transform="translate(576.30,715.81) rotate(0.03)">24</text>
<text class="tk" transform="translate(613.47,715.80) rotate(0.03)">72</text>
<text class="tk" transform="translate(644.55,715.64) rotate(0.03)">168</text>
<text class="xl" transform="translate(464.13,736.09) rotate(0.03)">Incubation time (H)</text>
<text class="pl" transform="translate(0.05,10.99) rotate(0.03)">(a)</text>
<text class="pl" transform="translate(342.37,10.99) rotate(0.03)">(b)</text>
<circle cx="53.7" cy="752.4" r="5.5" fill="#E18C62"/>
<text class="lg" transform="translate(63.02,759.60) rotate(0.03)">Passive immersion</text>
<circle cx="237.8" cy="752.5" r="5.5" fill="#92A0C8"/>
<text class="lg" transform="translate(246.71,759.78) rotate(0.03)">Gentle shaking</text>
<circle cx="394.8" cy="752.6" r="5.5" fill="#86C2A5"/>
<text class="lg" transform="translate(402.26,759.54) rotate(0.03)">Sonication</text>
<g transform="translate(52.4,782.9)" fill="#111"><path d="M-0.39,0 L-1.16,-3.99 A1.16,1.16 0 0 1 1.16,-3.99 L0.39,0 Z" transform="rotate(0)"/><path d="M-0.39,0 L-1.16,-3.99 A1.16,1.16 0 0 1 1.16,-3.99 L0.39,0 Z" transform="rotate(60)"/><path d="M-0.39,0 L-1.16,-3.99 A1.16,1.16 0 0 1 1.16,-3.99 L0.39,0 Z" transform="rotate(120)"/><path d="M-0.39,0 L-1.16,-3.99 A1.16,1.16 0 0 1 1.16,-3.99 L0.39,0 Z" transform="rotate(180)"/><path d="M-0.39,0 L-1.16,-3.99 A1.16,1.16 0 0 1 1.16,-3.99 L0.39,0 Z" transform="rotate(240)"/><path d="M-0.39,0 L-1.16,-3.99 A1.16,1.16 0 0 1 1.16,-3.99 L0.39,0 Z" transform="rotate(300)"/><circle r="1.11"/></g>
<text class="lg" transform="translate(63.77,787.80) rotate(0.03)">Passive immersion vs. Sonication</text>
<text class="hb" transform="translate(334.68,788.76) rotate(0.03)">#</text>
<text class="lg" transform="translate(350.96,788.28) rotate(0.03)">Gentle shaking vs. Sonication</text>
</svg>
</body></html>
